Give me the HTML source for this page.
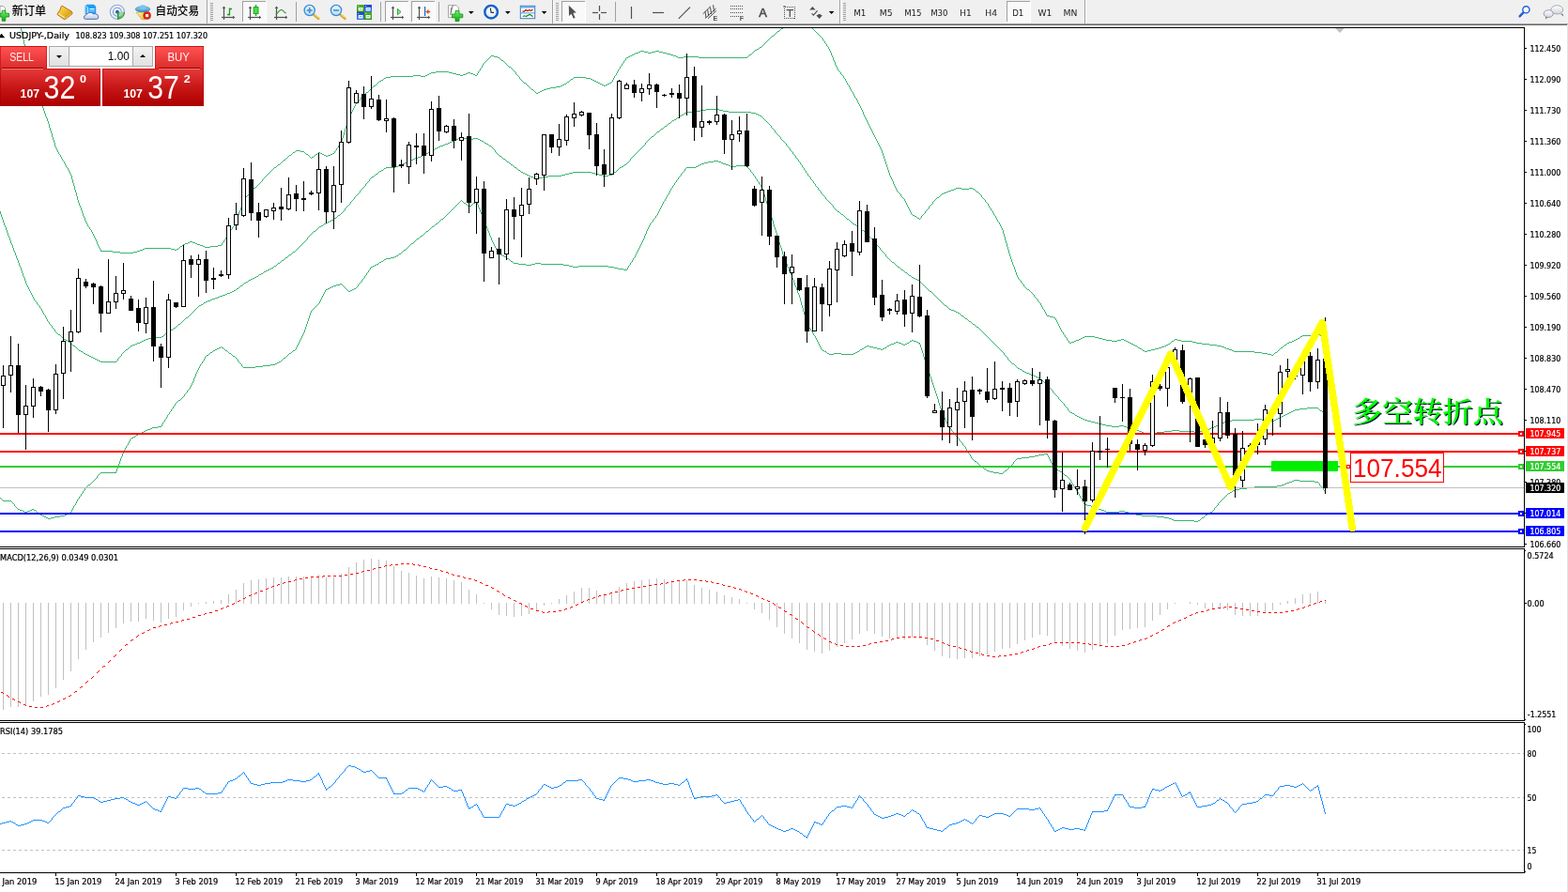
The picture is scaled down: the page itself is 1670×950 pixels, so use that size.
<!DOCTYPE html>
<html><head><meta charset="utf-8"><title>USDJPY-,Daily</title>
<style>
html,body{margin:0;padding:0;background:#fff;}
body{width:1670px;height:950px;overflow:hidden;position:relative;font-family:"Liberation Sans","Noto Sans CJK SC",sans-serif;font-size:11px;}
#chart{position:absolute;left:0;top:0;}

#tbs{position:absolute;left:0;top:0;}
#rs{position:absolute;left:1669px;top:26px;width:1px;height:924px;background:#e4e4e4;}
#oct{position:absolute;left:0;top:49px;width:217px;height:64px;background:#fff;}
#oct .btn{position:absolute;top:0;height:24px;background:linear-gradient(#ff5252,#dc2c2c);box-sizing:border-box;border-top:1px solid #c81414;box-shadow:inset 1px 0 0 rgba(190,10,10,0.6),inset -1px 0 0 rgba(190,10,10,0.6);}
#oct .btn i{position:absolute;top:22px;height:1px;background:#980000;}
#oct .vol{position:absolute;left:52px;top:0;width:111px;height:22px;box-sizing:border-box;border:1px solid #a8a8a8;background:#fff;}
#oct .vol b{position:absolute;top:0;width:20px;height:20px;background:linear-gradient(#f2f2f2,#e2e2e2);}
#oct .vol b.dn{left:0;border-right:1px solid #a8a8a8;}
#oct .vol b.up{right:0;border-left:1px solid #a8a8a8;}
#oct .vol b.dn:after{content:"";position:absolute;left:7px;top:8.5px;border:3px solid transparent;border-top:3.5px solid #000;border-bottom:0;}
#oct .vol b.up:after{content:"";position:absolute;left:7px;top:8px;border:3px solid transparent;border-bottom:3.5px solid #000;border-top:0;}
#oct .hl{position:absolute;top:24px;height:1px;background:#f47878;}
#oct .pp{position:absolute;top:24px;height:40px;background:linear-gradient(#e63a3a,#c41414 55%,#ac0000);box-shadow:inset 0 0 0 1px rgba(170,0,0,0.55);}

</style></head><body>
<svg id="chart" width="1670" height="950" viewBox="0 0 1670 950">
<defs>
<clipPath id="cm"><rect x="0" y="30" width="1623" height="552"/></clipPath>
<clipPath id="c2"><rect x="0" y="585" width="1623" height="182"/></clipPath>
<clipPath id="c3"><rect x="0" y="770" width="1623" height="159"/></clipPath>
</defs>
<g clip-path="url(#cm)" shape-rendering="crispEdges">
<path d="M0 -83h1v5h-1zM1 -78h1v6h-1zM2 -72h1v6h-1zM3 -66h1v5h-1zM4 -61h1v6h-1zM5 -55h1v6h-1zM6 -49h1v5h-1zM7 -44h1v6h-1zM8 -38h1v5h-1zM9 -33h1v6h-1zM10 -27h1v6h-1zM11 -21h1v5h-1zM12 -16h1v4h-1zM13 -12h1v4h-1zM14 -8h1v4h-1zM15 -4h1v5h-1zM16 1h1v4h-1zM17 5h1v4h-1zM18 9h1v4h-1zM19 13h1v5h-1zM20 18h1v5h-1zM21 23h1v5h-1zM858 25h2v1h-2zM856 26h2v1h-2zM860 26h1v1h-1zM840 27h8v1h-8zM853 27h3v1h-3zM861 27h1v1h-1zM22 28h1v5h-1zM835 28h5v1h-5zM848 28h5v1h-5zM862 28h2v1h-2zM834 29h1v1h-1zM864 29h1v1h-1zM832 30h2v1h-2zM865 30h1v1h-1zM831 31h1v1h-1zM866 31h1v1h-1zM830 32h1v1h-1zM867 32h1v1h-1zM23 33h1v4h-1zM828 33h2v1h-2zM868 33h1v1h-1zM827 34h1v1h-1zM869 34h1v1h-1zM826 35h1v1h-1zM870 35h1v1h-1zM825 36h1v1h-1zM871 36h1v1h-1zM24 37h1v5h-1zM824 37h1v1h-1zM872 37h1v1h-1zM822 38h2v1h-2zM873 38h1v1h-1zM821 39h1v1h-1zM874 39h1v1h-1zM820 40h1v1h-1zM875 40h1v1h-1zM819 41h1v1h-1zM876 41h1v2h-1zM25 42h1v5h-1zM818 42h1v1h-1zM817 43h1v1h-1zM877 43h1v1h-1zM816 44h1v1h-1zM878 44h1v2h-1zM815 45h1v1h-1zM814 46h1v1h-1zM879 46h1v1h-1zM26 47h1v5h-1zM813 47h1v1h-1zM880 47h1v2h-1zM812 48h1v1h-1zM811 49h1v1h-1zM881 49h1v1h-1zM809 50h2v1h-2zM882 50h1v2h-1zM808 51h1v1h-1zM27 52h1v5h-1zM806 52h2v1h-2zM883 52h1v2h-1zM804 53h2v1h-2zM682 54h4v1h-4zM698 54h4v1h-4zM803 54h1v1h-1zM884 54h1v2h-1zM680 55h2v1h-2zM686 55h4v1h-4zM694 55h4v1h-4zM702 55h4v1h-4zM802 55h1v1h-1zM677 56h3v1h-3zM690 56h4v1h-4zM706 56h4v1h-4zM801 56h1v1h-1zM885 56h1v3h-1zM28 57h1v5h-1zM675 57h2v1h-2zM710 57h4v1h-4zM800 57h1v1h-1zM673 58h2v1h-2zM714 58h3v1h-3zM798 58h2v1h-2zM523 59h3v1h-3zM671 59h2v1h-2zM717 59h3v1h-3zM797 59h1v1h-1zM886 59h1v2h-1zM522 60h1v1h-1zM526 60h4v1h-4zM669 60h2v1h-2zM720 60h2v1h-2zM728 60h16v1h-16zM796 60h1v1h-1zM521 61h1v1h-1zM530 61h2v1h-2zM667 61h2v1h-2zM722 61h6v1h-6zM744 61h52v1h-52zM887 61h1v3h-1zM29 62h1v4h-1zM520 62h1v1h-1zM532 62h1v1h-1zM666 62h1v2h-1zM519 63h1v1h-1zM533 63h1v1h-1zM518 64h1v1h-1zM534 64h2v1h-2zM665 64h1v1h-1zM888 64h1v2h-1zM517 65h1v1h-1zM536 65h1v1h-1zM664 65h1v2h-1zM30 66h1v5h-1zM516 66h1v1h-1zM537 66h1v1h-1zM889 66h1v3h-1zM515 67h1v1h-1zM538 67h1v1h-1zM663 67h1v1h-1zM514 68h1v2h-1zM539 68h1v1h-1zM662 68h1v2h-1zM540 69h1v1h-1zM890 69h1v2h-1zM513 70h1v2h-1zM541 70h1v1h-1zM661 70h1v1h-1zM31 71h1v5h-1zM542 71h2v1h-2zM660 71h1v2h-1zM891 71h1v2h-1zM512 72h1v1h-1zM544 72h1v1h-1zM511 73h1v2h-1zM545 73h1v1h-1zM659 73h1v1h-1zM892 73h1v2h-1zM546 74h1v1h-1zM658 74h1v2h-1zM510 75h1v1h-1zM547 75h1v1h-1zM893 75h1v1h-1zM32 76h1v5h-1zM464 76h14v1h-14zM509 76h1v2h-1zM548 76h1v1h-1zM657 76h1v2h-1zM894 76h1v1h-1zM459 77h5v1h-5zM478 77h4v1h-4zM498 77h3v1h-3zM549 77h1v2h-1zM895 77h1v2h-1zM457 78h2v1h-2zM482 78h4v1h-4zM496 78h2v1h-2zM501 78h3v1h-3zM508 78h1v2h-1zM656 78h1v2h-1zM455 79h2v1h-2zM486 79h4v1h-4zM493 79h3v1h-3zM504 79h2v1h-2zM550 79h1v1h-1zM896 79h1v1h-1zM440 80h8v1h-8zM453 80h2v1h-2zM490 80h3v1h-3zM506 80h2v1h-2zM551 80h1v1h-1zM655 80h1v1h-1zM897 80h1v1h-1zM33 81h1v4h-1zM416 81h24v1h-24zM448 81h5v1h-5zM552 81h1v1h-1zM654 81h1v2h-1zM898 81h1v2h-1zM411 82h5v1h-5zM553 82h1v2h-1zM611 82h13v1h-13zM409 83h2v1h-2zM610 83h1v1h-1zM624 83h5v1h-5zM653 83h1v2h-1zM899 83h1v1h-1zM408 84h1v1h-1zM554 84h1v1h-1zM608 84h2v1h-2zM629 84h2v1h-2zM900 84h1v2h-1zM34 85h1v5h-1zM406 85h2v1h-2zM555 85h1v1h-1zM607 85h1v1h-1zM631 85h2v1h-2zM652 85h1v2h-1zM404 86h2v1h-2zM556 86h1v1h-1zM606 86h1v1h-1zM633 86h2v1h-2zM901 86h1v2h-1zM403 87h1v1h-1zM557 87h1v1h-1zM604 87h2v1h-2zM635 87h2v1h-2zM651 87h1v1h-1zM402 88h1v1h-1zM558 88h2v1h-2zM603 88h1v1h-1zM637 88h2v1h-2zM649 88h2v1h-2zM902 88h1v2h-1zM401 89h1v1h-1zM560 89h1v1h-1zM601 89h2v1h-2zM639 89h2v1h-2zM647 89h2v1h-2zM35 90h1v4h-1zM400 90h1v1h-1zM561 90h1v1h-1zM599 90h2v1h-2zM641 90h2v1h-2zM645 90h2v1h-2zM903 90h1v1h-1zM398 91h2v1h-2zM562 91h1v1h-1zM597 91h2v1h-2zM643 91h2v1h-2zM904 91h1v2h-1zM397 92h1v1h-1zM563 92h1v1h-1zM592 92h5v1h-5zM396 93h1v1h-1zM564 93h1v1h-1zM586 93h6v1h-6zM905 93h1v2h-1zM36 94h1v2h-1zM395 94h1v1h-1zM565 94h1v1h-1zM582 94h4v1h-4zM394 95h1v1h-1zM566 95h2v1h-2zM579 95h3v1h-3zM906 95h1v2h-1zM37 96h1v2h-1zM393 96h1v1h-1zM568 96h1v1h-1zM577 96h2v1h-2zM392 97h1v1h-1zM569 97h1v1h-1zM575 97h2v1h-2zM907 97h1v1h-1zM38 98h1v2h-1zM390 98h2v1h-2zM570 98h1v1h-1zM573 98h2v1h-2zM908 98h1v2h-1zM389 99h1v1h-1zM571 99h2v1h-2zM39 100h1v2h-1zM388 100h1v1h-1zM909 100h1v2h-1zM387 101h1v1h-1zM40 102h1v2h-1zM386 102h1v1h-1zM910 102h1v2h-1zM385 103h1v1h-1zM41 104h1v2h-1zM384 104h1v1h-1zM911 104h1v1h-1zM383 105h1v2h-1zM912 105h1v2h-1zM42 106h1v2h-1zM382 107h1v1h-1zM913 107h1v2h-1zM43 108h1v2h-1zM381 108h1v1h-1zM380 109h1v1h-1zM914 109h1v2h-1zM44 110h1v3h-1zM379 110h1v1h-1zM378 111h1v2h-1zM915 111h1v2h-1zM45 113h1v2h-1zM377 113h1v2h-1zM916 113h1v2h-1zM46 115h1v3h-1zM376 115h1v2h-1zM917 115h1v2h-1zM375 117h1v2h-1zM918 117h1v2h-1zM47 118h1v3h-1zM374 119h1v2h-1zM919 119h1v3h-1zM48 121h1v3h-1zM373 121h1v2h-1zM920 122h1v2h-1zM372 123h1v2h-1zM49 124h1v2h-1zM921 124h1v2h-1zM371 125h1v3h-1zM50 126h1v3h-1zM922 126h1v2h-1zM370 128h1v3h-1zM923 128h1v2h-1zM51 129h1v3h-1zM924 130h1v2h-1zM369 131h1v3h-1zM52 132h1v4h-1zM925 132h1v2h-1zM368 134h1v3h-1zM926 134h1v2h-1zM53 136h1v3h-1zM927 136h1v2h-1zM367 137h1v4h-1zM928 138h1v2h-1zM54 139h1v3h-1zM929 140h1v2h-1zM366 141h1v3h-1zM55 142h1v4h-1zM930 142h1v2h-1zM365 144h1v3h-1zM931 144h1v2h-1zM56 146h1v3h-1zM932 146h1v2h-1zM364 147h1v3h-1zM933 148h1v2h-1zM57 149h1v3h-1zM363 150h1v2h-1zM934 150h1v2h-1zM58 152h1v4h-1zM362 152h1v2h-1zM935 152h1v2h-1zM361 154h1v1h-1zM936 154h1v2h-1zM360 155h1v2h-1zM59 156h1v2h-1zM937 156h1v2h-1zM359 157h1v1h-1zM60 158h1v2h-1zM358 158h1v2h-1zM938 158h1v2h-1zM61 160h1v2h-1zM315 160h5v1h-5zM357 160h1v1h-1zM939 160h1v3h-1zM314 161h1v1h-1zM320 161h4v1h-4zM356 161h1v2h-1zM62 162h1v2h-1zM312 162h2v1h-2zM324 162h1v1h-1zM339 162h2v1h-2zM311 163h1v1h-1zM325 163h1v1h-1zM338 163h1v1h-1zM341 163h2v1h-2zM354 163h2v1h-2zM940 163h1v3h-1zM63 164h1v1h-1zM310 164h1v1h-1zM326 164h2v1h-2zM336 164h2v1h-2zM343 164h2v1h-2zM352 164h2v1h-2zM64 165h1v2h-1zM308 165h2v1h-2zM328 165h1v1h-1zM335 165h1v1h-1zM345 165h2v1h-2zM349 165h3v1h-3zM307 166h1v1h-1zM329 166h1v1h-1zM334 166h1v1h-1zM347 166h2v1h-2zM941 166h1v3h-1zM65 167h1v2h-1zM306 167h1v1h-1zM330 167h1v1h-1zM332 167h2v1h-2zM305 168h1v1h-1zM331 168h1v1h-1zM66 169h1v2h-1zM304 169h1v1h-1zM942 169h1v3h-1zM302 170h2v1h-2zM67 171h1v1h-1zM301 171h1v1h-1zM68 172h1v2h-1zM300 172h1v1h-1zM943 172h1v3h-1zM299 173h1v1h-1zM69 174h1v2h-1zM298 174h1v1h-1zM296 175h2v1h-2zM944 175h1v3h-1zM70 176h1v2h-1zM295 176h1v1h-1zM294 177h1v1h-1zM71 178h1v1h-1zM292 178h2v1h-2zM945 178h1v3h-1zM72 179h1v2h-1zM291 179h1v1h-1zM290 180h1v1h-1zM73 181h1v2h-1zM289 181h1v1h-1zM946 181h1v3h-1zM288 182h1v1h-1zM74 183h1v2h-1zM287 183h1v1h-1zM286 184h1v1h-1zM947 184h1v3h-1zM75 185h1v2h-1zM285 185h1v1h-1zM284 186h1v1h-1zM76 187h1v4h-1zM283 187h1v1h-1zM948 187h1v2h-1zM282 188h1v1h-1zM281 189h1v1h-1zM949 189h1v2h-1zM280 190h1v1h-1zM77 191h1v4h-1zM279 191h1v2h-1zM950 191h1v2h-1zM278 193h1v1h-1zM951 193h1v3h-1zM277 194h1v1h-1zM78 195h1v3h-1zM276 195h1v1h-1zM275 196h1v1h-1zM952 196h1v2h-1zM274 197h1v1h-1zM79 198h1v4h-1zM273 198h1v1h-1zM953 198h1v2h-1zM272 199h1v1h-1zM270 200h2v1h-2zM954 200h1v2h-1zM1018 200h6v1h-6zM1032 200h4v1h-4zM269 201h1v1h-1zM1016 201h2v1h-2zM1024 201h8v1h-8zM1036 201h2v1h-2zM80 202h1v3h-1zM268 202h1v1h-1zM955 202h1v2h-1zM1013 202h3v1h-3zM1038 202h1v1h-1zM267 203h1v1h-1zM1010 203h3v1h-3zM1039 203h1v1h-1zM266 204h1v1h-1zM956 204h1v1h-1zM1008 204h2v1h-2zM1040 204h2v1h-2zM81 205h1v4h-1zM265 205h1v2h-1zM957 205h1v1h-1zM1005 205h3v1h-3zM1042 205h1v1h-1zM958 206h1v1h-1zM1003 206h2v1h-2zM1043 206h1v1h-1zM264 207h1v1h-1zM959 207h1v2h-1zM1002 207h1v1h-1zM1044 207h1v1h-1zM263 208h1v1h-1zM1001 208h1v1h-1zM1045 208h1v2h-1zM82 209h1v4h-1zM262 209h1v1h-1zM960 209h1v1h-1zM1000 209h1v1h-1zM261 210h1v2h-1zM961 210h1v1h-1zM998 210h2v1h-2zM1046 210h1v1h-1zM962 211h1v1h-1zM997 211h1v1h-1zM1047 211h1v1h-1zM260 212h1v1h-1zM963 212h1v2h-1zM996 212h1v1h-1zM1048 212h1v1h-1zM83 213h1v3h-1zM259 213h1v2h-1zM995 213h1v1h-1zM1049 213h1v2h-1zM964 214h1v2h-1zM994 214h1v1h-1zM258 215h1v3h-1zM993 215h1v2h-1zM1050 215h1v1h-1zM84 216h1v3h-1zM965 216h1v2h-1zM1051 216h1v1h-1zM992 217h1v1h-1zM1052 217h1v2h-1zM257 218h1v3h-1zM966 218h1v2h-1zM991 218h1v1h-1zM85 219h1v2h-1zM990 219h1v1h-1zM1053 219h1v2h-1zM967 220h1v2h-1zM989 220h1v2h-1zM86 221h1v3h-1zM256 221h1v3h-1zM1054 221h1v1h-1zM968 222h1v2h-1zM988 222h1v1h-1zM1055 222h1v2h-1zM987 223h1v1h-1zM87 224h1v3h-1zM255 224h1v2h-1zM969 224h1v2h-1zM986 224h1v1h-1zM1056 224h1v1h-1zM985 225h1v2h-1zM1057 225h1v2h-1zM254 226h1v3h-1zM970 226h1v2h-1zM88 227h1v3h-1zM984 227h1v1h-1zM1058 227h1v2h-1zM971 228h1v1h-1zM983 228h1v1h-1zM253 229h1v3h-1zM972 229h2v1h-2zM982 229h1v1h-1zM1059 229h1v1h-1zM89 230h1v2h-1zM974 230h2v1h-2zM981 230h1v2h-1zM1060 230h1v2h-1zM976 231h1v1h-1zM90 232h1v3h-1zM252 232h1v3h-1zM977 232h2v1h-2zM980 232h1v1h-1zM1061 232h1v2h-1zM979 233h1v1h-1zM1062 234h1v2h-1zM91 235h1v2h-1zM251 235h1v2h-1zM1063 236h1v1h-1zM92 237h1v2h-1zM250 237h1v2h-1zM1064 237h1v2h-1zM93 239h1v2h-1zM249 239h1v2h-1zM1065 239h1v2h-1zM94 241h1v1h-1zM248 241h1v1h-1zM1066 241h1v2h-1zM95 242h1v2h-1zM247 242h1v2h-1zM1067 243h1v2h-1zM96 244h1v1h-1zM246 244h1v1h-1zM97 245h1v2h-1zM245 245h1v2h-1zM1068 245h1v4h-1zM98 247h1v2h-1zM244 247h1v2h-1zM99 249h1v2h-1zM243 249h1v1h-1zM1069 249h1v3h-1zM242 250h1v2h-1zM100 251h1v2h-1zM241 252h1v1h-1zM1070 252h1v4h-1zM101 253h1v2h-1zM240 253h1v2h-1zM102 255h1v2h-1zM239 255h1v1h-1zM238 256h1v2h-1zM1071 256h1v3h-1zM103 257h1v3h-1zM202 257h3v1h-3zM200 258h2v1h-2zM205 258h3v1h-3zM237 258h1v1h-1zM197 259h3v1h-3zM208 259h2v1h-2zM236 259h1v2h-1zM1072 259h1v4h-1zM104 260h1v2h-1zM195 260h2v1h-2zM210 260h3v1h-3zM194 261h1v1h-1zM213 261h3v1h-3zM232 261h4v1h-4zM105 262h1v2h-1zM192 262h2v1h-2zM216 262h2v1h-2zM224 262h8v1h-8zM191 263h1v1h-1zM218 263h6v1h-6zM1073 263h1v3h-1zM106 264h1v2h-1zM154 264h28v1h-28zM190 264h1v1h-1zM152 265h2v1h-2zM182 265h4v1h-4zM188 265h2v1h-2zM107 266h1v2h-1zM149 266h3v1h-3zM186 266h2v1h-2zM1074 266h1v4h-1zM108 267h12v1h-12zM146 267h3v1h-3zM120 268h8v1h-8zM142 268h4v1h-4zM128 269h14v1h-14zM1075 270h1v3h-1zM1076 273h1v3h-1zM1077 276h1v3h-1zM1078 279h1v3h-1zM1079 282h1v2h-1zM1080 284h1v3h-1zM1081 287h1v3h-1zM1082 290h1v3h-1zM1083 293h1v2h-1zM1084 295h1v2h-1zM1085 297h1v1h-1zM1086 298h1v1h-1zM1087 299h1v2h-1zM1088 301h1v1h-1zM1089 302h1v1h-1zM1090 303h1v2h-1zM1091 305h1v1h-1zM1092 306h1v1h-1zM1093 307h1v1h-1zM1094 308h2v1h-2zM1096 309h1v1h-1zM1097 310h1v1h-1zM1098 311h1v1h-1zM1099 312h1v1h-1zM1100 313h1v1h-1zM1101 314h1v2h-1zM1102 316h1v1h-1zM1103 317h1v1h-1zM1104 318h1v1h-1zM1105 319h1v2h-1zM1106 321h1v1h-1zM1107 322h1v1h-1zM1108 323h1v2h-1zM1109 325h1v2h-1zM1110 327h1v2h-1zM1111 329h1v1h-1zM1112 330h1v2h-1zM1113 332h1v2h-1zM1114 334h1v2h-1zM1115 336h3v1h-3zM1118 337h4v1h-4zM1122 338h2v1h-2zM1124 339h1v2h-1zM1125 341h1v2h-1zM1126 343h1v2h-1zM1127 345h1v2h-1zM1128 347h1v2h-1zM1129 349h1v2h-1zM1130 351h1v2h-1zM1131 353h1v1h-1zM1132 354h1v2h-1zM1402 355h2v1h-2zM1133 356h1v1h-1zM1398 356h4v1h-4zM1404 356h2v1h-2zM1134 357h1v2h-1zM1387 357h11v1h-11zM1406 357h2v1h-2zM1155 358h11v1h-11zM1385 358h2v1h-2zM1408 358h1v1h-1zM1135 359h1v1h-1zM1153 359h2v1h-2zM1166 359h4v1h-4zM1384 359h1v1h-1zM1409 359h2v1h-2zM1136 360h1v2h-1zM1151 360h2v1h-2zM1170 360h4v1h-4zM1382 360h2v1h-2zM1411 360h1v1h-1zM1149 361h2v1h-2zM1174 361h4v1h-4zM1194 361h3v1h-3zM1251 361h3v1h-3zM1380 361h2v1h-2zM1137 362h1v1h-1zM1146 362h3v1h-3zM1178 362h6v1h-6zM1190 362h4v1h-4zM1197 362h2v1h-2zM1250 362h1v1h-1zM1254 362h4v1h-4zM1378 362h2v1h-2zM1138 363h1v2h-1zM1144 363h2v1h-2zM1184 363h6v1h-6zM1199 363h2v1h-2zM1248 363h2v1h-2zM1258 363h12v1h-12zM1376 363h2v1h-2zM1141 364h3v1h-3zM1201 364h2v1h-2zM1247 364h1v1h-1zM1270 364h4v1h-4zM1373 364h3v1h-3zM1139 365h2v1h-2zM1203 365h2v1h-2zM1246 365h1v1h-1zM1274 365h6v1h-6zM1371 365h2v1h-2zM1205 366h2v1h-2zM1244 366h2v1h-2zM1280 366h8v1h-8zM1370 366h1v1h-1zM1207 367h2v1h-2zM1242 367h2v1h-2zM1288 367h8v1h-8zM1368 367h2v1h-2zM1209 368h2v1h-2zM1240 368h2v1h-2zM1296 368h5v1h-5zM1367 368h1v1h-1zM1211 369h1v1h-1zM1237 369h3v1h-3zM1301 369h3v1h-3zM1366 369h1v1h-1zM1212 370h2v1h-2zM1234 370h3v1h-3zM1304 370h2v1h-2zM1364 370h2v1h-2zM1214 371h2v1h-2zM1230 371h4v1h-4zM1306 371h3v1h-3zM1363 371h1v1h-1zM1216 372h1v1h-1zM1226 372h4v1h-4zM1309 372h3v1h-3zM1362 372h1v1h-1zM1217 373h2v1h-2zM1222 373h4v1h-4zM1312 373h2v1h-2zM1361 373h1v1h-1zM1219 374h3v1h-3zM1314 374h22v1h-22zM1360 374h1v1h-1zM1336 375h8v1h-8zM1358 375h2v1h-2zM1344 376h6v1h-6zM1357 376h1v1h-1zM1350 377h4v1h-4zM1356 377h1v1h-1zM1354 378h2v1h-2z" fill="#3cb371"/>
<path d="M752 116h14v1h-14zM746 117h6v1h-6zM766 117h4v1h-4zM742 118h4v1h-4zM770 118h6v1h-6zM731 119h11v1h-11zM776 119h24v1h-24zM729 120h2v1h-2zM800 120h5v1h-5zM728 121h1v1h-1zM805 121h2v1h-2zM726 122h2v1h-2zM807 122h2v1h-2zM724 123h2v1h-2zM809 123h2v1h-2zM723 124h1v1h-1zM811 124h1v1h-1zM721 125h2v1h-2zM812 125h1v1h-1zM720 126h1v1h-1zM813 126h1v1h-1zM718 127h2v1h-2zM814 127h1v1h-1zM716 128h2v1h-2zM815 128h1v1h-1zM715 129h1v1h-1zM816 129h1v1h-1zM714 130h1v1h-1zM817 130h1v1h-1zM712 131h2v1h-2zM818 131h1v1h-1zM711 132h1v1h-1zM819 132h1v1h-1zM710 133h1v1h-1zM820 133h1v1h-1zM708 134h2v1h-2zM821 134h1v2h-1zM707 135h1v1h-1zM706 136h1v1h-1zM822 136h1v1h-1zM704 137h2v1h-2zM823 137h1v1h-1zM703 138h1v1h-1zM824 138h1v1h-1zM702 139h1v1h-1zM825 139h1v2h-1zM700 140h2v1h-2zM699 141h1v1h-1zM826 141h1v1h-1zM698 142h1v1h-1zM827 142h1v1h-1zM697 143h1v1h-1zM828 143h1v1h-1zM696 144h1v1h-1zM829 144h1v1h-1zM694 145h2v1h-2zM830 145h1v1h-1zM490 146h4v1h-4zM693 146h1v1h-1zM831 146h1v2h-1zM488 147h2v1h-2zM494 147h4v1h-4zM504 147h5v1h-5zM692 147h1v1h-1zM485 148h3v1h-3zM498 148h6v1h-6zM509 148h2v1h-2zM691 148h1v1h-1zM832 148h1v1h-1zM483 149h2v1h-2zM511 149h2v1h-2zM690 149h1v1h-1zM833 149h1v1h-1zM481 150h2v1h-2zM513 150h2v1h-2zM689 150h1v1h-1zM834 150h1v1h-1zM479 151h2v1h-2zM515 151h1v1h-1zM688 151h1v1h-1zM835 151h1v1h-1zM477 152h2v1h-2zM516 152h2v1h-2zM687 152h1v2h-1zM836 152h1v1h-1zM474 153h3v1h-3zM518 153h2v1h-2zM837 153h1v2h-1zM472 154h2v1h-2zM520 154h1v1h-1zM686 154h1v1h-1zM469 155h3v1h-3zM521 155h2v1h-2zM685 155h1v1h-1zM838 155h1v1h-1zM467 156h2v1h-2zM523 156h1v1h-1zM684 156h1v1h-1zM839 156h1v1h-1zM465 157h2v1h-2zM524 157h1v1h-1zM683 157h1v1h-1zM840 157h1v1h-1zM463 158h2v1h-2zM525 158h1v1h-1zM682 158h1v1h-1zM841 158h1v2h-1zM461 159h2v1h-2zM526 159h1v1h-1zM681 159h1v1h-1zM459 160h2v1h-2zM527 160h1v2h-1zM680 160h1v1h-1zM842 160h1v1h-1zM457 161h2v1h-2zM679 161h1v1h-1zM843 161h1v1h-1zM456 162h1v1h-1zM528 162h1v1h-1zM678 162h1v1h-1zM844 162h1v2h-1zM454 163h2v1h-2zM529 163h1v1h-1zM677 163h1v1h-1zM452 164h2v1h-2zM530 164h1v1h-1zM676 164h1v1h-1zM845 164h1v1h-1zM450 165h2v1h-2zM531 165h1v1h-1zM675 165h1v1h-1zM846 165h1v1h-1zM448 166h2v1h-2zM532 166h2v1h-2zM674 166h1v1h-1zM847 166h1v2h-1zM445 167h3v1h-3zM534 167h1v1h-1zM673 167h1v1h-1zM442 168h3v1h-3zM535 168h1v1h-1zM672 168h1v1h-1zM848 168h1v1h-1zM440 169h2v1h-2zM536 169h2v1h-2zM671 169h1v2h-1zM849 169h1v1h-1zM437 170h3v1h-3zM538 170h1v1h-1zM850 170h1v2h-1zM435 171h2v1h-2zM539 171h1v1h-1zM670 171h1v1h-1zM433 172h2v1h-2zM540 172h2v1h-2zM669 172h1v1h-1zM851 172h1v1h-1zM431 173h2v1h-2zM542 173h1v1h-1zM668 173h1v1h-1zM852 173h1v2h-1zM429 174h2v1h-2zM543 174h1v1h-1zM667 174h1v1h-1zM426 175h3v1h-3zM544 175h2v1h-2zM665 175h2v1h-2zM853 175h1v1h-1zM424 176h2v1h-2zM546 176h1v1h-1zM664 176h1v1h-1zM854 176h1v2h-1zM421 177h3v1h-3zM547 177h1v1h-1zM662 177h2v1h-2zM411 178h10v1h-10zM548 178h2v1h-2zM660 178h2v1h-2zM855 178h1v1h-1zM409 179h2v1h-2zM550 179h1v1h-1zM659 179h1v1h-1zM856 179h1v2h-1zM408 180h1v1h-1zM551 180h1v1h-1zM658 180h1v1h-1zM406 181h2v1h-2zM552 181h2v1h-2zM657 181h1v1h-1zM857 181h1v1h-1zM404 182h2v1h-2zM554 182h1v1h-1zM656 182h1v1h-1zM858 182h1v2h-1zM403 183h1v1h-1zM555 183h2v1h-2zM610 183h20v1h-20zM654 183h2v1h-2zM402 184h1v1h-1zM557 184h2v1h-2zM606 184h4v1h-4zM630 184h4v1h-4zM653 184h1v1h-1zM859 184h1v1h-1zM400 185h2v1h-2zM559 185h2v1h-2zM602 185h4v1h-4zM634 185h4v1h-4zM652 185h1v1h-1zM860 185h1v2h-1zM399 186h1v1h-1zM561 186h2v1h-2zM598 186h4v1h-4zM638 186h4v1h-4zM648 186h4v1h-4zM398 187h1v1h-1zM563 187h2v1h-2zM584 187h14v1h-14zM642 187h6v1h-6zM861 187h1v1h-1zM396 188h2v1h-2zM565 188h3v1h-3zM578 188h6v1h-6zM862 188h1v1h-1zM395 189h1v1h-1zM568 189h2v1h-2zM574 189h4v1h-4zM863 189h1v2h-1zM394 190h1v1h-1zM570 190h4v1h-4zM393 191h1v2h-1zM864 191h1v1h-1zM865 192h1v1h-1zM392 193h1v1h-1zM866 193h1v2h-1zM391 194h1v1h-1zM390 195h1v1h-1zM867 195h1v1h-1zM389 196h1v2h-1zM868 196h1v2h-1zM388 198h1v1h-1zM869 198h1v1h-1zM387 199h1v1h-1zM870 199h1v1h-1zM386 200h1v1h-1zM871 200h1v2h-1zM385 201h1v1h-1zM384 202h1v1h-1zM872 202h1v1h-1zM383 203h1v2h-1zM873 203h1v1h-1zM874 204h1v2h-1zM382 205h1v1h-1zM381 206h1v1h-1zM875 206h1v1h-1zM380 207h1v1h-1zM876 207h1v1h-1zM379 208h1v1h-1zM877 208h1v1h-1zM378 209h1v1h-1zM878 209h1v1h-1zM377 210h1v2h-1zM879 210h1v2h-1zM376 212h1v1h-1zM880 212h1v1h-1zM375 213h1v1h-1zM881 213h1v1h-1zM374 214h1v1h-1zM882 214h1v1h-1zM373 215h1v2h-1zM883 215h1v1h-1zM884 216h1v1h-1zM372 217h1v1h-1zM885 217h1v1h-1zM371 218h1v1h-1zM886 218h1v1h-1zM370 219h1v1h-1zM887 219h1v2h-1zM369 220h1v1h-1zM368 221h1v1h-1zM888 221h1v1h-1zM367 222h1v2h-1zM889 222h1v1h-1zM890 223h1v1h-1zM366 224h1v1h-1zM891 224h1v1h-1zM0 225h1v3h-1zM365 225h1v1h-1zM892 225h2v1h-2zM364 226h1v1h-1zM894 226h1v1h-1zM363 227h1v1h-1zM895 227h1v1h-1zM1 228h1v3h-1zM362 228h1v1h-1zM896 228h2v1h-2zM360 229h2v1h-2zM898 229h1v1h-1zM359 230h1v1h-1zM899 230h1v1h-1zM2 231h1v3h-1zM358 231h1v1h-1zM900 231h1v1h-1zM356 232h2v1h-2zM901 232h1v1h-1zM355 233h1v1h-1zM902 233h2v1h-2zM3 234h1v3h-1zM353 234h2v1h-2zM904 234h1v1h-1zM351 235h2v1h-2zM905 235h1v1h-1zM349 236h2v1h-2zM906 236h1v1h-1zM4 237h1v3h-1zM347 237h2v1h-2zM907 237h1v1h-1zM345 238h2v1h-2zM908 238h2v1h-2zM344 239h1v1h-1zM910 239h2v1h-2zM5 240h1v2h-1zM342 240h2v1h-2zM912 240h1v1h-1zM340 241h2v1h-2zM913 241h2v1h-2zM6 242h1v3h-1zM339 242h1v1h-1zM915 242h1v1h-1zM338 243h1v1h-1zM916 243h1v1h-1zM337 244h1v1h-1zM917 244h1v1h-1zM7 245h1v3h-1zM336 245h1v1h-1zM918 245h2v1h-2zM334 246h2v1h-2zM920 246h1v1h-1zM333 247h1v1h-1zM921 247h1v1h-1zM8 248h1v3h-1zM332 248h1v1h-1zM922 248h1v1h-1zM331 249h1v1h-1zM923 249h1v1h-1zM330 250h1v1h-1zM924 250h1v1h-1zM9 251h1v2h-1zM329 251h1v1h-1zM925 251h1v1h-1zM328 252h1v1h-1zM926 252h1v1h-1zM10 253h1v3h-1zM327 253h1v2h-1zM927 253h1v1h-1zM928 254h1v1h-1zM326 255h1v1h-1zM929 255h1v1h-1zM11 256h1v3h-1zM325 256h1v1h-1zM930 256h1v1h-1zM324 257h1v1h-1zM931 257h1v1h-1zM323 258h1v1h-1zM932 258h1v1h-1zM12 259h1v2h-1zM322 259h1v1h-1zM933 259h1v2h-1zM321 260h1v1h-1zM13 261h1v3h-1zM320 261h1v1h-1zM934 261h1v1h-1zM319 262h1v1h-1zM935 262h1v1h-1zM318 263h1v1h-1zM936 263h1v1h-1zM14 264h1v3h-1zM317 264h1v1h-1zM937 264h1v2h-1zM316 265h1v1h-1zM315 266h1v1h-1zM938 266h1v1h-1zM15 267h1v2h-1zM314 267h1v1h-1zM939 267h1v1h-1zM312 268h2v1h-2zM940 268h1v1h-1zM16 269h1v3h-1zM311 269h1v1h-1zM941 269h1v1h-1zM310 270h1v1h-1zM942 270h1v1h-1zM308 271h2v1h-2zM943 271h1v2h-1zM17 272h1v3h-1zM307 272h1v1h-1zM306 273h1v1h-1zM944 273h1v1h-1zM304 274h2v1h-2zM945 274h1v1h-1zM18 275h1v2h-1zM303 275h1v1h-1zM946 275h1v1h-1zM302 276h1v1h-1zM947 276h1v1h-1zM19 277h1v3h-1zM300 277h2v1h-2zM948 277h1v1h-1zM299 278h1v1h-1zM949 278h1v1h-1zM298 279h1v1h-1zM950 279h2v1h-2zM20 280h1v3h-1zM296 280h2v1h-2zM952 280h1v1h-1zM295 281h1v1h-1zM953 281h1v1h-1zM294 282h1v1h-1zM954 282h1v1h-1zM21 283h1v2h-1zM292 283h2v1h-2zM955 283h1v1h-1zM291 284h1v1h-1zM956 284h2v1h-2zM22 285h1v3h-1zM289 285h2v1h-2zM958 285h1v1h-1zM287 286h2v1h-2zM959 286h1v1h-1zM285 287h2v1h-2zM960 287h2v1h-2zM23 288h1v3h-1zM283 288h2v1h-2zM962 288h1v1h-1zM281 289h2v1h-2zM963 289h1v1h-1zM280 290h1v1h-1zM964 290h2v1h-2zM24 291h1v3h-1zM278 291h2v1h-2zM966 291h1v1h-1zM276 292h2v1h-2zM967 292h1v1h-1zM275 293h1v1h-1zM968 293h2v1h-2zM25 294h1v2h-1zM273 294h2v1h-2zM970 294h1v1h-1zM271 295h2v1h-2zM971 295h2v1h-2zM26 296h1v3h-1zM269 296h2v1h-2zM973 296h2v1h-2zM267 297h2v1h-2zM975 297h2v1h-2zM265 298h2v1h-2zM977 298h2v1h-2zM27 299h1v3h-1zM264 299h1v1h-1zM979 299h1v1h-1zM262 300h2v1h-2zM980 300h1v1h-1zM260 301h2v1h-2zM981 301h1v1h-1zM28 302h1v2h-1zM259 302h1v1h-1zM982 302h1v1h-1zM258 303h1v1h-1zM983 303h1v1h-1zM29 304h1v2h-1zM256 304h2v1h-2zM984 304h1v1h-1zM255 305h1v1h-1zM985 305h1v1h-1zM30 306h1v2h-1zM254 306h1v1h-1zM986 306h1v1h-1zM252 307h2v1h-2zM987 307h1v1h-1zM31 308h1v2h-1zM251 308h1v1h-1zM988 308h1v1h-1zM249 309h2v1h-2zM989 309h1v1h-1zM32 310h1v2h-1zM247 310h2v1h-2zM990 310h2v1h-2zM245 311h2v1h-2zM992 311h1v1h-1zM33 312h1v2h-1zM242 312h3v1h-3zM993 312h1v1h-1zM240 313h2v1h-2zM994 313h1v1h-1zM34 314h1v2h-1zM237 314h3v1h-3zM995 314h1v1h-1zM234 315h3v1h-3zM996 315h1v1h-1zM35 316h1v2h-1zM232 316h2v1h-2zM997 316h1v1h-1zM229 317h3v1h-3zM998 317h1v1h-1zM36 318h1v2h-1zM226 318h3v1h-3zM999 318h1v1h-1zM224 319h2v1h-2zM1000 319h1v1h-1zM37 320h1v1h-1zM221 320h3v1h-3zM1001 320h1v1h-1zM38 321h1v1h-1zM219 321h2v1h-2zM1002 321h1v1h-1zM39 322h1v2h-1zM217 322h2v1h-2zM1003 322h1v1h-1zM216 323h1v1h-1zM1004 323h1v1h-1zM40 324h1v1h-1zM214 324h2v1h-2zM1005 324h1v1h-1zM41 325h1v1h-1zM212 325h2v1h-2zM1006 325h2v1h-2zM42 326h1v2h-1zM211 326h1v1h-1zM1008 326h1v1h-1zM210 327h1v1h-1zM1009 327h1v1h-1zM43 328h1v1h-1zM209 328h1v1h-1zM1010 328h1v1h-1zM44 329h1v2h-1zM208 329h1v1h-1zM1011 329h2v1h-2zM207 330h1v1h-1zM1013 330h3v1h-3zM45 331h1v2h-1zM206 331h1v1h-1zM1016 331h2v1h-2zM205 332h1v1h-1zM1018 332h2v1h-2zM46 333h1v2h-1zM204 333h1v1h-1zM1020 333h2v1h-2zM203 334h1v1h-1zM1022 334h1v1h-1zM47 335h1v1h-1zM202 335h1v1h-1zM1023 335h1v1h-1zM48 336h1v2h-1zM201 336h1v1h-1zM1024 336h2v1h-2zM200 337h1v1h-1zM1026 337h1v1h-1zM49 338h1v2h-1zM198 338h2v1h-2zM1027 338h1v1h-1zM197 339h1v1h-1zM1028 339h2v1h-2zM50 340h1v2h-1zM196 340h1v1h-1zM1030 340h1v1h-1zM195 341h1v1h-1zM1031 341h1v1h-1zM51 342h1v1h-1zM194 342h1v1h-1zM1032 342h2v1h-2zM52 343h1v2h-1zM193 343h1v1h-1zM1034 343h1v1h-1zM192 344h1v1h-1zM1035 344h1v1h-1zM53 345h1v1h-1zM190 345h2v1h-2zM1036 345h2v1h-2zM54 346h1v1h-1zM189 346h1v1h-1zM1038 346h1v1h-1zM55 347h1v2h-1zM188 347h1v1h-1zM1039 347h1v1h-1zM187 348h1v1h-1zM1040 348h2v1h-2zM56 349h1v1h-1zM185 349h2v1h-2zM1042 349h1v1h-1zM57 350h1v1h-1zM184 350h1v1h-1zM1043 350h1v1h-1zM58 351h1v2h-1zM182 351h2v1h-2zM1044 351h1v1h-1zM180 352h2v1h-2zM1045 352h1v1h-1zM59 353h1v1h-1zM179 353h1v1h-1zM1046 353h1v1h-1zM60 354h1v1h-1zM178 354h1v1h-1zM1047 354h1v1h-1zM61 355h1v1h-1zM176 355h2v1h-2zM1048 355h1v1h-1zM62 356h2v1h-2zM175 356h1v1h-1zM1049 356h1v1h-1zM64 357h1v1h-1zM174 357h1v1h-1zM1050 357h1v1h-1zM65 358h1v1h-1zM172 358h2v1h-2zM1051 358h1v1h-1zM66 359h1v1h-1zM162 359h10v1h-10zM1052 359h1v1h-1zM67 360h1v1h-1zM158 360h4v1h-4zM1053 360h1v1h-1zM68 361h2v1h-2zM155 361h3v1h-3zM1054 361h1v1h-1zM70 362h2v1h-2zM153 362h2v1h-2zM1055 362h1v1h-1zM72 363h1v1h-1zM151 363h2v1h-2zM1056 363h1v1h-1zM73 364h2v1h-2zM149 364h2v1h-2zM1057 364h1v1h-1zM75 365h1v1h-1zM146 365h3v1h-3zM1058 365h1v1h-1zM76 366h1v1h-1zM144 366h2v1h-2zM1059 366h1v1h-1zM77 367h1v1h-1zM141 367h3v1h-3zM1060 367h1v1h-1zM78 368h2v1h-2zM139 368h2v1h-2zM1061 368h1v1h-1zM80 369h1v1h-1zM138 369h1v1h-1zM1062 369h1v1h-1zM81 370h1v1h-1zM137 370h1v1h-1zM1063 370h1v1h-1zM82 371h1v1h-1zM136 371h1v1h-1zM1064 371h1v1h-1zM83 372h1v1h-1zM134 372h2v1h-2zM1065 372h1v1h-1zM84 373h2v1h-2zM133 373h1v1h-1zM1066 373h1v1h-1zM86 374h2v1h-2zM132 374h1v1h-1zM1067 374h1v1h-1zM88 375h1v1h-1zM131 375h1v1h-1zM1068 375h1v1h-1zM89 376h2v1h-2zM130 376h1v1h-1zM1069 376h1v2h-1zM91 377h2v1h-2zM129 377h1v2h-1zM93 378h2v1h-2zM1070 378h1v1h-1zM95 379h2v1h-2zM128 379h1v1h-1zM1071 379h1v1h-1zM97 380h2v1h-2zM127 380h1v1h-1zM1072 380h1v1h-1zM99 381h2v1h-2zM126 381h1v1h-1zM1073 381h1v2h-1zM101 382h2v1h-2zM125 382h1v2h-1zM103 383h2v1h-2zM1074 383h1v1h-1zM105 384h2v1h-2zM124 384h1v1h-1zM1075 384h1v1h-1zM107 385h17v1h-17zM1076 385h1v1h-1zM1077 386h1v1h-1zM1078 387h2v1h-2zM1080 388h1v1h-1zM1081 389h1v1h-1zM1082 390h1v1h-1zM1083 391h1v1h-1zM1084 392h2v1h-2zM1086 393h2v1h-2zM1088 394h1v1h-1zM1089 395h2v1h-2zM1091 396h2v1h-2zM1093 397h3v1h-3zM1096 398h2v1h-2zM1098 399h3v1h-3zM1101 400h2v1h-2zM1103 401h2v1h-2zM1105 402h2v1h-2zM1107 403h1v1h-1zM1108 404h2v1h-2zM1110 405h1v1h-1zM1111 406h1v1h-1zM1112 407h2v1h-2zM1114 408h1v1h-1zM1115 409h1v1h-1zM1116 410h1v1h-1zM1117 411h1v2h-1zM1118 413h1v1h-1zM1119 414h1v1h-1zM1120 415h1v1h-1zM1121 416h1v2h-1zM1122 418h1v1h-1zM1123 419h1v1h-1zM1124 420h1v1h-1zM1125 421h1v1h-1zM1126 422h1v1h-1zM1127 423h1v2h-1zM1128 425h1v1h-1zM1129 426h1v1h-1zM1130 427h1v1h-1zM1131 428h1v1h-1zM1132 429h1v1h-1zM1133 430h1v2h-1zM1134 432h1v1h-1zM1135 433h1v1h-1zM1136 434h1v1h-1zM1392 434h12v1h-12zM1137 435h1v2h-1zM1384 435h8v1h-8zM1404 435h1v1h-1zM1379 436h5v1h-5zM1405 436h1v1h-1zM1138 437h1v1h-1zM1377 437h2v1h-2zM1406 437h2v1h-2zM1139 438h1v1h-1zM1375 438h2v1h-2zM1408 438h1v1h-1zM1140 439h2v1h-2zM1373 439h2v1h-2zM1409 439h1v1h-1zM1142 440h2v1h-2zM1371 440h2v1h-2zM1410 440h1v1h-1zM1144 441h1v1h-1zM1369 441h2v1h-2zM1411 441h1v1h-1zM1145 442h2v1h-2zM1367 442h2v1h-2zM1147 443h2v1h-2zM1365 443h2v1h-2zM1149 444h2v1h-2zM1363 444h2v1h-2zM1151 445h2v1h-2zM1361 445h2v1h-2zM1153 446h2v1h-2zM1336 446h8v1h-8zM1359 446h2v1h-2zM1155 447h3v1h-3zM1312 447h24v1h-24zM1344 447h8v1h-8zM1357 447h2v1h-2zM1158 448h4v1h-4zM1306 448h6v1h-6zM1352 448h5v1h-5zM1162 449h4v1h-4zM1304 449h2v1h-2zM1166 450h4v1h-4zM1301 450h3v1h-3zM1170 451h4v1h-4zM1299 451h2v1h-2zM1174 452h4v1h-4zM1297 452h2v1h-2zM1178 453h6v1h-6zM1192 453h5v1h-5zM1295 453h2v1h-2zM1184 454h8v1h-8zM1197 454h3v1h-3zM1293 454h2v1h-2zM1200 455h2v1h-2zM1290 455h3v1h-3zM1202 456h4v1h-4zM1288 456h2v1h-2zM1206 457h4v1h-4zM1285 457h3v1h-3zM1210 458h3v1h-3zM1248 458h8v1h-8zM1282 458h3v1h-3zM1213 459h3v1h-3zM1240 459h8v1h-8zM1256 459h16v1h-16zM1278 459h4v1h-4zM1216 460h2v1h-2zM1232 460h8v1h-8zM1272 460h6v1h-6zM1218 461h14v1h-14z" fill="#3cb371"/>
<path d="M760 171h5v1h-5zM754 172h6v1h-6zM765 172h3v1h-3zM750 173h4v1h-4zM768 173h2v1h-2zM747 174h3v1h-3zM770 174h3v1h-3zM745 175h2v1h-2zM773 175h3v1h-3zM743 176h2v1h-2zM776 176h2v1h-2zM784 176h12v1h-12zM741 177h2v1h-2zM778 177h6v1h-6zM796 177h1v2h-1zM731 178h10v1h-10zM730 179h1v1h-1zM797 179h1v1h-1zM729 180h1v2h-1zM798 180h1v1h-1zM799 181h1v2h-1zM728 182h1v1h-1zM727 183h1v1h-1zM800 183h1v1h-1zM726 184h1v1h-1zM801 184h1v1h-1zM725 185h1v2h-1zM802 185h1v2h-1zM724 187h1v1h-1zM803 187h1v1h-1zM723 188h1v1h-1zM804 188h1v2h-1zM722 189h1v2h-1zM805 190h1v1h-1zM721 191h1v1h-1zM806 191h1v2h-1zM720 192h1v2h-1zM807 193h1v1h-1zM719 194h1v1h-1zM808 194h1v2h-1zM718 195h1v2h-1zM809 196h1v1h-1zM717 197h1v1h-1zM810 197h1v2h-1zM716 198h1v2h-1zM811 199h1v2h-1zM715 200h1v1h-1zM714 201h1v2h-1zM812 201h1v3h-1zM713 203h1v2h-1zM813 204h1v3h-1zM712 205h1v2h-1zM711 207h1v1h-1zM814 207h1v3h-1zM710 208h1v2h-1zM709 210h1v2h-1zM815 210h1v4h-1zM708 212h1v2h-1zM491 213h1v1h-1zM490 214h1v1h-1zM492 214h1v1h-1zM507 214h1v2h-1zM707 214h1v1h-1zM816 214h1v3h-1zM489 215h1v1h-1zM493 215h1v1h-1zM506 215h1v1h-1zM706 215h1v2h-1zM488 216h1v1h-1zM494 216h2v1h-2zM504 216h2v1h-2zM508 216h1v2h-1zM487 217h1v1h-1zM496 217h1v1h-1zM503 217h1v1h-1zM705 217h1v2h-1zM817 217h1v3h-1zM486 218h1v1h-1zM497 218h1v1h-1zM502 218h1v1h-1zM509 218h1v3h-1zM485 219h1v1h-1zM498 219h1v1h-1zM500 219h2v1h-2zM704 219h1v2h-1zM484 220h1v1h-1zM499 220h1v1h-1zM818 220h1v3h-1zM483 221h1v1h-1zM510 221h1v2h-1zM703 221h1v2h-1zM482 222h1v1h-1zM481 223h1v1h-1zM511 223h1v3h-1zM702 223h1v2h-1zM819 223h1v3h-1zM480 224h1v1h-1zM479 225h1v1h-1zM701 225h1v2h-1zM478 226h1v1h-1zM512 226h1v2h-1zM820 226h1v3h-1zM477 227h1v1h-1zM700 227h1v2h-1zM476 228h1v1h-1zM513 228h1v3h-1zM475 229h1v1h-1zM699 229h1v1h-1zM821 229h1v3h-1zM474 230h1v1h-1zM698 230h1v2h-1zM473 231h1v1h-1zM514 231h1v2h-1zM472 232h1v1h-1zM697 232h1v1h-1zM822 232h1v3h-1zM470 233h2v1h-2zM515 233h1v3h-1zM696 233h1v1h-1zM469 234h1v1h-1zM695 234h1v2h-1zM468 235h1v1h-1zM823 235h1v4h-1zM467 236h1v1h-1zM516 236h1v2h-1zM694 236h1v1h-1zM466 237h1v1h-1zM693 237h1v1h-1zM464 238h2v1h-2zM517 238h1v3h-1zM692 238h1v2h-1zM463 239h1v1h-1zM824 239h1v3h-1zM462 240h1v1h-1zM691 240h1v2h-1zM460 241h2v1h-2zM518 241h1v2h-1zM459 242h1v1h-1zM690 242h1v2h-1zM825 242h1v3h-1zM458 243h1v1h-1zM519 243h1v3h-1zM457 244h1v1h-1zM689 244h1v2h-1zM456 245h1v1h-1zM826 245h1v3h-1zM454 246h2v1h-2zM520 246h1v2h-1zM688 246h1v3h-1zM453 247h1v1h-1zM452 248h1v1h-1zM521 248h1v3h-1zM827 248h1v3h-1zM451 249h1v1h-1zM687 249h1v2h-1zM450 250h1v1h-1zM448 251h2v1h-2zM522 251h1v2h-1zM686 251h1v3h-1zM828 251h1v3h-1zM447 252h1v1h-1zM446 253h1v1h-1zM523 253h1v3h-1zM444 254h2v1h-2zM685 254h1v2h-1zM829 254h1v4h-1zM443 255h1v1h-1zM442 256h1v1h-1zM524 256h1v2h-1zM684 256h1v2h-1zM441 257h1v1h-1zM440 258h1v1h-1zM525 258h1v2h-1zM683 258h1v2h-1zM830 258h1v3h-1zM438 259h2v1h-2zM437 260h1v1h-1zM526 260h1v2h-1zM682 260h1v2h-1zM436 261h1v1h-1zM831 261h1v3h-1zM435 262h1v1h-1zM527 262h1v2h-1zM681 262h1v2h-1zM434 263h1v1h-1zM433 264h1v1h-1zM528 264h1v2h-1zM680 264h1v2h-1zM832 264h1v3h-1zM432 265h1v1h-1zM430 266h2v1h-2zM529 266h1v2h-1zM679 266h1v2h-1zM429 267h1v1h-1zM833 267h1v4h-1zM428 268h1v1h-1zM530 268h1v2h-1zM678 268h1v2h-1zM427 269h1v1h-1zM425 270h2v1h-2zM531 270h2v1h-2zM677 270h1v2h-1zM424 271h1v1h-1zM533 271h2v1h-2zM834 271h1v3h-1zM422 272h2v1h-2zM535 272h2v1h-2zM676 272h1v2h-1zM420 273h2v1h-2zM537 273h2v1h-2zM416 274h4v1h-4zM539 274h1v1h-1zM675 274h1v1h-1zM835 274h1v3h-1zM411 275h5v1h-5zM540 275h2v1h-2zM674 275h1v2h-1zM409 276h2v1h-2zM542 276h1v1h-1zM408 277h1v1h-1zM543 277h1v1h-1zM673 277h1v2h-1zM836 277h1v2h-1zM406 278h2v1h-2zM544 278h2v1h-2zM404 279h2v1h-2zM546 279h1v1h-1zM672 279h1v1h-1zM837 279h1v2h-1zM403 280h1v1h-1zM547 280h5v1h-5zM570 280h6v1h-6zM671 280h1v2h-1zM401 281h2v1h-2zM552 281h8v1h-8zM566 281h4v1h-4zM576 281h24v1h-24zM838 281h1v3h-1zM399 282h2v1h-2zM560 282h6v1h-6zM600 282h6v1h-6zM670 282h1v1h-1zM397 283h2v1h-2zM606 283h4v1h-4zM616 283h32v1h-32zM669 283h1v2h-1zM395 284h2v1h-2zM610 284h6v1h-6zM648 284h6v1h-6zM839 284h1v2h-1zM394 285h1v2h-1zM654 285h4v1h-4zM668 285h1v2h-1zM658 286h6v1h-6zM840 286h1v3h-1zM393 287h1v1h-1zM664 287h4v1h-4zM392 288h1v2h-1zM841 289h1v2h-1zM391 290h1v1h-1zM390 291h1v2h-1zM842 291h1v2h-1zM389 293h1v1h-1zM843 293h1v3h-1zM388 294h1v2h-1zM387 296h1v1h-1zM844 296h1v2h-1zM386 297h1v1h-1zM385 298h1v2h-1zM845 298h1v3h-1zM384 300h1v1h-1zM383 301h1v1h-1zM846 301h1v3h-1zM362 302h2v1h-2zM382 302h1v1h-1zM358 303h4v1h-4zM364 303h1v1h-1zM381 303h1v2h-1zM355 304h3v1h-3zM365 304h1v1h-1zM847 304h1v2h-1zM353 305h2v1h-2zM366 305h1v1h-1zM380 305h1v1h-1zM351 306h2v1h-2zM367 306h1v1h-1zM379 306h1v1h-1zM848 306h1v3h-1zM349 307h2v1h-2zM368 307h1v1h-1zM377 307h2v1h-2zM347 308h2v1h-2zM369 308h1v1h-1zM375 308h2v1h-2zM346 309h1v2h-1zM370 309h1v1h-1zM373 309h2v1h-2zM849 309h1v3h-1zM371 310h2v1h-2zM345 311h1v2h-1zM850 312h1v2h-1zM344 313h1v2h-1zM851 314h1v3h-1zM343 315h1v2h-1zM342 317h1v2h-1zM852 317h1v4h-1zM341 319h1v2h-1zM340 321h1v2h-1zM853 321h1v4h-1zM339 323h1v1h-1zM338 324h1v1h-1zM337 325h1v1h-1zM854 325h1v3h-1zM336 326h1v1h-1zM335 327h1v1h-1zM334 328h1v1h-1zM855 328h1v4h-1zM333 329h1v1h-1zM332 330h1v1h-1zM331 331h1v2h-1zM856 332h1v3h-1zM330 333h1v3h-1zM857 335h1v4h-1zM329 336h1v3h-1zM328 339h1v3h-1zM858 339h1v4h-1zM327 342h1v3h-1zM859 343h1v2h-1zM326 345h1v3h-1zM860 345h1v2h-1zM861 347h1v2h-1zM325 348h1v3h-1zM862 349h1v1h-1zM863 350h1v2h-1zM324 351h1v3h-1zM864 352h1v1h-1zM865 353h1v2h-1zM323 354h1v2h-1zM866 355h1v2h-1zM322 356h1v2h-1zM867 357h1v1h-1zM321 358h1v2h-1zM868 358h1v2h-1zM320 360h1v2h-1zM869 360h1v2h-1zM319 362h1v2h-1zM870 362h1v2h-1zM971 362h2v1h-2zM969 363h2v1h-2zM973 363h3v1h-3zM318 364h1v2h-1zM871 364h1v2h-1zM954 364h3v1h-3zM968 364h1v1h-1zM976 364h2v1h-2zM952 365h2v1h-2zM957 365h3v1h-3zM966 365h2v1h-2zM978 365h2v1h-2zM317 366h1v2h-1zM872 366h1v2h-1zM949 366h3v1h-3zM960 366h2v1h-2zM964 366h2v1h-2zM979 366h1v1h-1zM947 367h2v1h-2zM962 367h2v1h-2zM980 367h1v3h-1zM316 368h1v2h-1zM873 368h1v2h-1zM923 368h3v1h-3zM945 368h2v1h-2zM235 369h1v1h-1zM921 369h2v1h-2zM926 369h4v1h-4zM944 369h1v1h-1zM233 370h2v1h-2zM236 370h2v1h-2zM315 370h1v2h-1zM874 370h1v2h-1zM920 370h1v1h-1zM930 370h4v1h-4zM942 370h2v1h-2zM981 370h1v3h-1zM231 371h2v1h-2zM238 371h1v1h-1zM918 371h2v1h-2zM934 371h4v1h-4zM940 371h2v1h-2zM229 372h2v1h-2zM239 372h1v1h-1zM314 372h1v1h-1zM875 372h1v1h-1zM916 372h2v1h-2zM938 372h2v1h-2zM227 373h2v1h-2zM240 373h2v1h-2zM312 373h2v1h-2zM876 373h2v1h-2zM915 373h1v1h-1zM982 373h1v3h-1zM226 374h1v1h-1zM242 374h1v1h-1zM311 374h1v1h-1zM878 374h2v1h-2zM913 374h2v1h-2zM224 375h2v1h-2zM243 375h1v1h-1zM310 375h1v1h-1zM880 375h1v1h-1zM911 375h2v1h-2zM223 376h1v1h-1zM244 376h2v1h-2zM308 376h2v1h-2zM881 376h2v1h-2zM888 376h8v1h-8zM909 376h2v1h-2zM983 376h1v4h-1zM222 377h1v1h-1zM246 377h1v1h-1zM307 377h1v1h-1zM883 377h5v1h-5zM896 377h13v1h-13zM220 378h2v1h-2zM247 378h1v1h-1zM306 378h1v1h-1zM219 379h1v1h-1zM248 379h2v1h-2zM305 379h1v1h-1zM218 380h1v2h-1zM250 380h1v1h-1zM304 380h1v1h-1zM984 380h1v3h-1zM251 381h1v1h-1zM302 381h2v1h-2zM217 382h1v2h-1zM252 382h1v1h-1zM301 382h1v1h-1zM253 383h1v2h-1zM300 383h1v1h-1zM985 383h1v3h-1zM216 384h1v1h-1zM299 384h1v1h-1zM215 385h1v2h-1zM254 385h1v1h-1zM297 385h2v1h-2zM255 386h1v1h-1zM295 386h2v1h-2zM986 386h1v3h-1zM214 387h1v1h-1zM256 387h1v1h-1zM293 387h2v1h-2zM213 388h1v2h-1zM257 388h1v2h-1zM288 388h5v1h-5zM280 389h8v1h-8zM987 389h1v3h-1zM212 390h1v2h-1zM258 390h1v1h-1zM272 390h8v1h-8zM259 391h13v1h-13zM211 392h1v2h-1zM988 392h1v3h-1zM210 394h1v2h-1zM989 395h1v3h-1zM209 396h1v2h-1zM208 398h1v3h-1zM990 398h1v3h-1zM207 401h1v2h-1zM991 401h1v3h-1zM206 403h1v3h-1zM992 404h1v3h-1zM205 406h1v2h-1zM993 407h1v3h-1zM204 408h1v2h-1zM203 410h1v2h-1zM994 410h1v3h-1zM202 412h1v2h-1zM995 413h1v3h-1zM201 414h1v1h-1zM200 415h1v1h-1zM199 416h1v2h-1zM996 416h1v3h-1zM198 418h1v1h-1zM197 419h1v1h-1zM997 419h1v3h-1zM196 420h1v2h-1zM195 422h1v1h-1zM998 422h1v3h-1zM194 423h1v1h-1zM193 424h1v1h-1zM192 425h1v1h-1zM999 425h1v4h-1zM190 426h2v1h-2zM189 427h1v1h-1zM188 428h1v1h-1zM187 429h1v1h-1zM1000 429h1v3h-1zM186 430h1v2h-1zM185 432h1v1h-1zM1001 432h1v3h-1zM184 433h1v2h-1zM183 435h1v1h-1zM1002 435h1v3h-1zM182 436h1v2h-1zM181 438h1v1h-1zM1003 438h1v3h-1zM180 439h1v2h-1zM179 441h1v1h-1zM1004 441h1v2h-1zM178 442h1v2h-1zM1005 443h1v2h-1zM177 444h1v2h-1zM1006 445h1v2h-1zM176 446h1v1h-1zM175 447h1v2h-1zM1007 447h1v2h-1zM174 449h1v1h-1zM1008 449h1v2h-1zM173 450h1v2h-1zM1009 451h1v2h-1zM172 452h1v2h-1zM1010 453h1v2h-1zM168 454h4v1h-4zM162 455h6v1h-6zM1011 455h1v1h-1zM160 456h2v1h-2zM1012 456h1v1h-1zM157 457h3v1h-3zM1013 457h1v2h-1zM155 458h2v1h-2zM153 459h2v1h-2zM1014 459h1v1h-1zM151 460h2v1h-2zM1015 460h1v1h-1zM149 461h2v1h-2zM1016 461h1v1h-1zM147 462h2v1h-2zM1017 462h1v2h-1zM145 463h2v1h-2zM144 464h1v1h-1zM1018 464h1v1h-1zM142 465h2v1h-2zM1019 465h1v1h-1zM140 466h2v1h-2zM1020 466h1v1h-1zM139 467h1v1h-1zM1021 467h1v2h-1zM138 468h1v2h-1zM1022 469h1v1h-1zM137 470h1v2h-1zM1023 470h1v1h-1zM1024 471h1v1h-1zM136 472h1v2h-1zM1025 472h1v2h-1zM135 474h1v1h-1zM1026 474h1v1h-1zM134 475h1v2h-1zM1027 475h1v1h-1zM1028 476h1v2h-1zM133 477h1v2h-1zM1029 478h1v2h-1zM132 479h1v2h-1zM1030 480h1v1h-1zM131 481h1v2h-1zM1031 481h1v2h-1zM130 483h1v3h-1zM1032 483h1v1h-1zM1112 483h4v1h-4zM1033 484h1v2h-1zM1106 484h6v1h-6zM1115 484h1v1h-1zM1102 485h4v1h-4zM1116 485h1v2h-1zM129 486h1v2h-1zM1034 486h1v2h-1zM1096 486h6v1h-6zM1088 487h8v1h-8zM1117 487h1v2h-1zM128 488h1v3h-1zM1035 488h1v1h-1zM1083 488h5v1h-5zM1036 489h1v1h-1zM1082 489h1v1h-1zM1118 489h1v2h-1zM1037 490h1v1h-1zM1081 490h1v1h-1zM127 491h1v3h-1zM1038 491h2v1h-2zM1080 491h1v1h-1zM1119 491h1v2h-1zM1040 492h1v1h-1zM1079 492h1v2h-1zM1041 493h1v1h-1zM1120 493h1v2h-1zM126 494h1v3h-1zM1042 494h1v1h-1zM1078 494h1v1h-1zM1043 495h1v1h-1zM1077 495h1v1h-1zM1121 495h1v2h-1zM1044 496h2v1h-2zM1076 496h1v1h-1zM125 497h1v2h-1zM1046 497h1v1h-1zM1075 497h1v1h-1zM1122 497h1v2h-1zM1047 498h1v1h-1zM1074 498h1v1h-1zM124 499h1v3h-1zM1048 499h2v1h-2zM1073 499h1v1h-1zM1123 499h2v1h-2zM1050 500h1v1h-1zM1072 500h1v1h-1zM1125 500h2v1h-2zM1051 501h3v1h-3zM1070 501h2v1h-2zM1127 501h2v1h-2zM123 502h1v2h-1zM1054 502h4v1h-4zM1069 502h1v1h-1zM1129 502h2v1h-2zM107 503h16v1h-16zM1058 503h6v1h-6zM1068 503h1v1h-1zM1131 503h1v1h-1zM106 504h1v1h-1zM1064 504h4v1h-4zM1132 504h1v1h-1zM105 505h1v1h-1zM1133 505h1v1h-1zM104 506h1v1h-1zM1134 506h2v1h-2zM103 507h1v2h-1zM1136 507h1v1h-1zM1137 508h1v1h-1zM102 509h1v1h-1zM1138 509h1v1h-1zM101 510h1v1h-1zM1139 510h1v1h-1zM100 511h1v1h-1zM1140 511h1v2h-1zM1378 511h6v1h-6zM99 512h1v1h-1zM1376 512h2v1h-2zM1384 512h16v1h-16zM98 513h1v1h-1zM1141 513h1v2h-1zM1373 513h3v1h-3zM1400 513h4v1h-4zM97 514h1v1h-1zM1370 514h3v1h-3zM1404 514h1v1h-1zM96 515h1v1h-1zM1142 515h1v1h-1zM1368 515h2v1h-2zM1405 515h1v2h-1zM94 516h2v1h-2zM1143 516h1v2h-1zM1365 516h3v1h-3zM93 517h1v1h-1zM1360 517h5v1h-5zM1406 517h1v1h-1zM92 518h1v1h-1zM1144 518h1v1h-1zM1336 518h24v1h-24zM1407 518h1v1h-1zM91 519h1v1h-1zM1145 519h1v2h-1zM1328 519h8v1h-8zM1408 519h1v1h-1zM90 520h1v2h-1zM1320 520h8v1h-8zM1409 520h1v2h-1zM1146 521h1v2h-1zM1315 521h5v1h-5zM89 522h1v1h-1zM1313 522h2v1h-2zM1410 522h1v1h-1zM88 523h1v2h-1zM1147 523h1v1h-1zM1312 523h1v1h-1zM1411 523h1v1h-1zM1148 524h1v2h-1zM1310 524h2v1h-2zM87 525h1v1h-1zM1308 525h2v1h-2zM86 526h1v2h-1zM1149 526h1v2h-1zM1307 526h1v1h-1zM1306 527h1v1h-1zM85 528h1v1h-1zM1150 528h1v2h-1zM1305 528h1v1h-1zM84 529h1v2h-1zM1304 529h1v1h-1zM0 530h1v1h-1zM1151 530h1v1h-1zM1303 530h1v1h-1zM1 531h1v1h-1zM83 531h1v1h-1zM1152 531h1v2h-1zM1302 531h1v1h-1zM2 532h1v1h-1zM82 532h1v2h-1zM1301 532h1v1h-1zM3 533h9v1h-9zM1153 533h1v2h-1zM1300 533h1v1h-1zM12 534h1v1h-1zM81 534h1v2h-1zM1299 534h1v1h-1zM13 535h1v1h-1zM1154 535h1v2h-1zM1298 535h1v1h-1zM14 536h1v1h-1zM80 536h1v2h-1zM1297 536h1v2h-1zM15 537h1v2h-1zM1155 537h3v1h-3zM79 538h1v1h-1zM1158 538h4v1h-4zM1296 538h1v1h-1zM16 539h1v1h-1zM78 539h1v2h-1zM1162 539h3v1h-3zM1295 539h1v1h-1zM17 540h1v1h-1zM1165 540h3v1h-3zM1294 540h1v1h-1zM18 541h1v1h-1zM77 541h1v2h-1zM1168 541h2v1h-2zM1293 541h1v2h-1zM19 542h2v1h-2zM34 542h2v1h-2zM1170 542h3v1h-3zM21 543h3v1h-3zM32 543h2v1h-2zM36 543h2v1h-2zM76 543h1v2h-1zM1173 543h3v1h-3zM1292 543h1v1h-1zM24 544h2v1h-2zM29 544h3v1h-3zM38 544h1v1h-1zM1176 544h2v1h-2zM1192 544h6v1h-6zM1291 544h1v1h-1zM26 545h3v1h-3zM39 545h1v1h-1zM75 545h1v1h-1zM1178 545h14v1h-14zM1198 545h4v1h-4zM1289 545h2v1h-2zM40 546h2v1h-2zM73 546h2v1h-2zM1202 546h4v1h-4zM1288 546h1v1h-1zM42 547h1v1h-1zM71 547h2v1h-2zM1206 547h4v1h-4zM1286 547h2v1h-2zM43 548h2v1h-2zM69 548h2v1h-2zM1210 548h6v1h-6zM1284 548h2v1h-2zM45 549h2v1h-2zM64 549h5v1h-5zM1216 549h16v1h-16zM1283 549h1v1h-1zM47 550h2v1h-2zM58 550h6v1h-6zM1232 550h8v1h-8zM1282 550h1v1h-1zM49 551h2v1h-2zM54 551h4v1h-4zM1240 551h5v1h-5zM1280 551h2v1h-2zM51 552h3v1h-3zM1245 552h3v1h-3zM1279 552h1v1h-1zM1248 553h2v1h-2zM1278 553h1v1h-1zM1250 554h22v1h-22zM1276 554h2v1h-2zM1272 555h4v1h-4z" fill="#3cb371"/>
<rect x="0" y="519" width="1623" height="1" fill="#c0c0c0"/>
<rect x="0" y="461" width="1623" height="2" fill="#ff0000"/>
<rect x="0" y="480" width="1623" height="2" fill="#ff0000"/>
<rect x="0" y="496" width="1623" height="2" fill="#32cd32"/>
<rect x="0" y="546" width="1623" height="2" fill="#0000ff"/>
<rect x="0" y="565" width="1623" height="2" fill="#0000ff"/>
<rect x="1354" y="491" width="71" height="11" fill="#00ee00"/>
<g fill="#000"><rect x="3" y="389" width="1" height="67"/><rect x="1" y="400" width="5" height="11"/><rect x="2" y="401" width="3" height="9" fill="#fff"/><rect x="11" y="358" width="1" height="60"/><rect x="9" y="389" width="5" height="11"/><rect x="10" y="390" width="3" height="9" fill="#fff"/><rect x="19" y="366" width="1" height="95"/><rect x="17" y="389" width="5" height="53"/><rect x="27" y="410" width="1" height="69"/><rect x="25" y="432" width="5" height="10"/><rect x="26" y="433" width="3" height="8" fill="#fff"/><rect x="35" y="403" width="1" height="42"/><rect x="33" y="412" width="5" height="21"/><rect x="34" y="413" width="3" height="19" fill="#fff"/><rect x="43" y="411" width="1" height="11"/><rect x="41" y="412" width="5" height="5"/><rect x="51" y="414" width="1" height="46"/><rect x="49" y="415" width="5" height="22"/><rect x="59" y="388" width="1" height="53"/><rect x="57" y="398" width="5" height="39"/><rect x="58" y="399" width="3" height="37" fill="#fff"/><rect x="67" y="348" width="1" height="77"/><rect x="65" y="363" width="5" height="35"/><rect x="66" y="364" width="3" height="33" fill="#fff"/><rect x="75" y="330" width="1" height="66"/><rect x="73" y="353" width="5" height="11"/><rect x="74" y="354" width="3" height="9" fill="#fff"/><rect x="83" y="286" width="1" height="69"/><rect x="81" y="296" width="5" height="58"/><rect x="82" y="297" width="3" height="56" fill="#fff"/><rect x="91" y="297" width="1" height="10"/><rect x="89" y="300" width="5" height="5"/><rect x="99" y="301" width="1" height="23"/><rect x="97" y="302" width="5" height="4"/><rect x="107" y="304" width="1" height="50"/><rect x="105" y="305" width="5" height="29"/><rect x="115" y="276" width="1" height="58"/><rect x="113" y="321" width="5" height="13"/><rect x="114" y="322" width="3" height="11" fill="#fff"/><rect x="123" y="294" width="1" height="35"/><rect x="121" y="312" width="5" height="10"/><rect x="122" y="313" width="3" height="8" fill="#fff"/><rect x="131" y="280" width="1" height="39"/><rect x="129" y="309" width="5" height="4"/><rect x="130" y="310" width="3" height="2" fill="#fff"/><rect x="139" y="315" width="1" height="16"/><rect x="137" y="318" width="5" height="13"/><rect x="147" y="319" width="1" height="34"/><rect x="145" y="328" width="5" height="16"/><rect x="155" y="317" width="1" height="38"/><rect x="153" y="327" width="5" height="18"/><rect x="154" y="328" width="3" height="16" fill="#fff"/><rect x="163" y="299" width="1" height="86"/><rect x="161" y="327" width="5" height="42"/><rect x="171" y="366" width="1" height="47"/><rect x="169" y="369" width="5" height="12"/><rect x="179" y="313" width="1" height="79"/><rect x="177" y="319" width="5" height="62"/><rect x="178" y="320" width="3" height="60" fill="#fff"/><rect x="187" y="322" width="1" height="6"/><rect x="185" y="322" width="5" height="5"/><rect x="195" y="261" width="1" height="66"/><rect x="193" y="277" width="5" height="50"/><rect x="194" y="278" width="3" height="48" fill="#fff"/><rect x="203" y="272" width="1" height="24"/><rect x="201" y="276" width="5" height="6"/><rect x="211" y="271" width="1" height="45"/><rect x="209" y="276" width="5" height="6"/><rect x="210" y="277" width="3" height="4" fill="#fff"/><rect x="219" y="267" width="1" height="45"/><rect x="217" y="276" width="5" height="23"/><rect x="227" y="285" width="1" height="23"/><rect x="225" y="296" width="5" height="2"/><rect x="235" y="288" width="1" height="7"/><rect x="233" y="292" width="5" height="2"/><rect x="243" y="232" width="1" height="65"/><rect x="241" y="240" width="5" height="53"/><rect x="242" y="241" width="3" height="51" fill="#fff"/><rect x="251" y="216" width="1" height="29"/><rect x="249" y="228" width="5" height="12"/><rect x="250" y="229" width="3" height="10" fill="#fff"/><rect x="259" y="179" width="1" height="52"/><rect x="257" y="190" width="5" height="40"/><rect x="258" y="191" width="3" height="38" fill="#fff"/><rect x="267" y="173" width="1" height="62"/><rect x="265" y="191" width="5" height="36"/><rect x="275" y="216" width="1" height="37"/><rect x="273" y="226" width="5" height="9"/><rect x="283" y="223" width="1" height="9"/><rect x="281" y="223" width="5" height="8"/><rect x="282" y="224" width="3" height="6" fill="#fff"/><rect x="291" y="216" width="1" height="18"/><rect x="289" y="221" width="5" height="4"/><rect x="290" y="222" width="3" height="2" fill="#fff"/><rect x="299" y="200" width="1" height="35"/><rect x="297" y="220" width="5" height="3"/><rect x="307" y="189" width="1" height="35"/><rect x="305" y="207" width="5" height="16"/><rect x="306" y="208" width="3" height="14" fill="#fff"/><rect x="315" y="197" width="1" height="28"/><rect x="313" y="206" width="5" height="6"/><rect x="323" y="193" width="1" height="32"/><rect x="321" y="211" width="5" height="2"/><rect x="331" y="203" width="1" height="5"/><rect x="329" y="205" width="5" height="2"/><rect x="339" y="163" width="1" height="61"/><rect x="337" y="180" width="5" height="26"/><rect x="338" y="181" width="3" height="24" fill="#fff"/><rect x="347" y="177" width="1" height="61"/><rect x="345" y="180" width="5" height="46"/><rect x="355" y="177" width="1" height="67"/><rect x="353" y="197" width="5" height="29"/><rect x="354" y="198" width="3" height="27" fill="#fff"/><rect x="363" y="139" width="1" height="77"/><rect x="361" y="151" width="5" height="46"/><rect x="362" y="152" width="3" height="44" fill="#fff"/><rect x="371" y="86" width="1" height="67"/><rect x="369" y="93" width="5" height="59"/><rect x="370" y="94" width="3" height="57" fill="#fff"/><rect x="379" y="96" width="1" height="14"/><rect x="377" y="99" width="5" height="11"/><rect x="378" y="100" width="3" height="9" fill="#fff"/><rect x="387" y="92" width="1" height="35"/><rect x="385" y="100" width="5" height="14"/><rect x="395" y="81" width="1" height="35"/><rect x="393" y="105" width="5" height="9"/><rect x="394" y="106" width="3" height="7" fill="#fff"/><rect x="403" y="101" width="1" height="28"/><rect x="401" y="106" width="5" height="22"/><rect x="411" y="106" width="1" height="35"/><rect x="409" y="126" width="5" height="3"/><rect x="410" y="127" width="3" height="1" fill="#fff"/><rect x="419" y="125" width="1" height="80"/><rect x="417" y="126" width="5" height="52"/><rect x="427" y="170" width="1" height="9"/><rect x="425" y="175" width="5" height="2"/><rect x="435" y="151" width="1" height="45"/><rect x="433" y="154" width="5" height="24"/><rect x="434" y="155" width="3" height="22" fill="#fff"/><rect x="443" y="142" width="1" height="33"/><rect x="441" y="155" width="5" height="2"/><rect x="451" y="142" width="1" height="43"/><rect x="449" y="155" width="5" height="11"/><rect x="459" y="108" width="1" height="64"/><rect x="457" y="116" width="5" height="50"/><rect x="458" y="117" width="3" height="48" fill="#fff"/><rect x="467" y="102" width="1" height="48"/><rect x="465" y="115" width="5" height="25"/><rect x="475" y="133" width="1" height="9"/><rect x="473" y="134" width="5" height="7"/><rect x="474" y="135" width="3" height="5" fill="#fff"/><rect x="483" y="127" width="1" height="31"/><rect x="481" y="134" width="5" height="16"/><rect x="491" y="141" width="1" height="30"/><rect x="489" y="146" width="5" height="4"/><rect x="490" y="147" width="3" height="2" fill="#fff"/><rect x="499" y="121" width="1" height="106"/><rect x="497" y="145" width="5" height="71"/><rect x="507" y="188" width="1" height="61"/><rect x="505" y="201" width="5" height="15"/><rect x="506" y="202" width="3" height="13" fill="#fff"/><rect x="515" y="193" width="1" height="107"/><rect x="513" y="201" width="5" height="69"/><rect x="523" y="263" width="1" height="12"/><rect x="521" y="267" width="5" height="8"/><rect x="522" y="268" width="3" height="6" fill="#fff"/><rect x="531" y="253" width="1" height="50"/><rect x="529" y="265" width="5" height="6"/><rect x="539" y="212" width="1" height="65"/><rect x="537" y="223" width="5" height="48"/><rect x="538" y="224" width="3" height="46" fill="#fff"/><rect x="547" y="210" width="1" height="45"/><rect x="545" y="223" width="5" height="8"/><rect x="555" y="200" width="1" height="74"/><rect x="553" y="218" width="5" height="12"/><rect x="554" y="219" width="3" height="10" fill="#fff"/><rect x="563" y="189" width="1" height="39"/><rect x="561" y="201" width="5" height="17"/><rect x="562" y="202" width="3" height="15" fill="#fff"/><rect x="571" y="184" width="1" height="13"/><rect x="569" y="185" width="5" height="6"/><rect x="570" y="186" width="3" height="4" fill="#fff"/><rect x="579" y="143" width="1" height="60"/><rect x="577" y="143" width="5" height="44"/><rect x="578" y="144" width="3" height="42" fill="#fff"/><rect x="587" y="143" width="1" height="20"/><rect x="585" y="143" width="5" height="14"/><rect x="595" y="132" width="1" height="34"/><rect x="593" y="148" width="5" height="9"/><rect x="594" y="149" width="3" height="7" fill="#fff"/><rect x="603" y="122" width="1" height="33"/><rect x="601" y="124" width="5" height="26"/><rect x="602" y="125" width="3" height="24" fill="#fff"/><rect x="611" y="109" width="1" height="26"/><rect x="609" y="121" width="5" height="5"/><rect x="610" y="122" width="3" height="3" fill="#fff"/><rect x="619" y="118" width="1" height="6"/><rect x="617" y="119" width="5" height="4"/><rect x="618" y="120" width="3" height="2" fill="#fff"/><rect x="627" y="120" width="1" height="39"/><rect x="625" y="120" width="5" height="24"/><rect x="635" y="131" width="1" height="56"/><rect x="633" y="143" width="5" height="34"/><rect x="643" y="159" width="1" height="40"/><rect x="641" y="175" width="5" height="11"/><rect x="651" y="121" width="1" height="65"/><rect x="649" y="125" width="5" height="61"/><rect x="650" y="126" width="3" height="59" fill="#fff"/><rect x="659" y="85" width="1" height="42"/><rect x="657" y="86" width="5" height="40"/><rect x="658" y="87" width="3" height="38" fill="#fff"/><rect x="667" y="88" width="1" height="7"/><rect x="665" y="90" width="5" height="5"/><rect x="666" y="91" width="3" height="3" fill="#fff"/><rect x="675" y="85" width="1" height="19"/><rect x="673" y="90" width="5" height="9"/><rect x="683" y="89" width="1" height="19"/><rect x="681" y="94" width="5" height="5"/><rect x="682" y="95" width="3" height="3" fill="#fff"/><rect x="691" y="78" width="1" height="23"/><rect x="689" y="90" width="5" height="5"/><rect x="690" y="91" width="3" height="3" fill="#fff"/><rect x="699" y="89" width="1" height="26"/><rect x="697" y="90" width="5" height="8"/><rect x="707" y="100" width="1" height="3"/><rect x="705" y="101" width="5" height="1"/><rect x="715" y="94" width="1" height="10"/><rect x="713" y="99" width="5" height="2"/><rect x="723" y="90" width="1" height="36"/><rect x="721" y="99" width="5" height="6"/><rect x="731" y="57" width="1" height="66"/><rect x="729" y="82" width="5" height="23"/><rect x="730" y="83" width="3" height="21" fill="#fff"/><rect x="739" y="71" width="1" height="79"/><rect x="737" y="81" width="5" height="55"/><rect x="747" y="91" width="1" height="55"/><rect x="745" y="129" width="5" height="7"/><rect x="746" y="130" width="3" height="5" fill="#fff"/><rect x="755" y="128" width="1" height="5"/><rect x="753" y="129" width="5" height="2"/><rect x="763" y="102" width="1" height="31"/><rect x="761" y="122" width="5" height="8"/><rect x="762" y="123" width="3" height="6" fill="#fff"/><rect x="771" y="121" width="1" height="43"/><rect x="769" y="122" width="5" height="27"/><rect x="779" y="128" width="1" height="53"/><rect x="777" y="143" width="5" height="6"/><rect x="778" y="144" width="3" height="4" fill="#fff"/><rect x="787" y="124" width="1" height="27"/><rect x="785" y="139" width="5" height="4"/><rect x="786" y="140" width="3" height="2" fill="#fff"/><rect x="795" y="121" width="1" height="57"/><rect x="793" y="139" width="5" height="38"/><rect x="803" y="198" width="1" height="22"/><rect x="801" y="201" width="5" height="18"/><rect x="811" y="188" width="1" height="63"/><rect x="809" y="202" width="5" height="14"/><rect x="810" y="203" width="3" height="12" fill="#fff"/><rect x="819" y="198" width="1" height="63"/><rect x="817" y="202" width="5" height="50"/><rect x="827" y="251" width="1" height="34"/><rect x="825" y="251" width="5" height="23"/><rect x="835" y="268" width="1" height="56"/><rect x="833" y="273" width="5" height="19"/><rect x="843" y="271" width="1" height="53"/><rect x="841" y="284" width="5" height="7"/><rect x="842" y="285" width="3" height="5" fill="#fff"/><rect x="851" y="296" width="1" height="14"/><rect x="849" y="296" width="5" height="13"/><rect x="859" y="293" width="1" height="72"/><rect x="857" y="306" width="5" height="47"/><rect x="867" y="296" width="1" height="57"/><rect x="865" y="305" width="5" height="48"/><rect x="866" y="306" width="3" height="46" fill="#fff"/><rect x="875" y="302" width="1" height="51"/><rect x="873" y="306" width="5" height="18"/><rect x="883" y="278" width="1" height="59"/><rect x="881" y="286" width="5" height="39"/><rect x="882" y="287" width="3" height="37" fill="#fff"/><rect x="891" y="258" width="1" height="64"/><rect x="889" y="265" width="5" height="23"/><rect x="890" y="266" width="3" height="21" fill="#fff"/><rect x="899" y="256" width="1" height="18"/><rect x="897" y="260" width="5" height="13"/><rect x="898" y="261" width="3" height="11" fill="#fff"/><rect x="907" y="246" width="1" height="48"/><rect x="905" y="259" width="5" height="9"/><rect x="915" y="214" width="1" height="58"/><rect x="913" y="224" width="5" height="45"/><rect x="914" y="225" width="3" height="43" fill="#fff"/><rect x="923" y="218" width="1" height="40"/><rect x="921" y="225" width="5" height="33"/><rect x="931" y="242" width="1" height="83"/><rect x="929" y="254" width="5" height="63"/><rect x="939" y="298" width="1" height="44"/><rect x="937" y="314" width="5" height="24"/><rect x="947" y="328" width="1" height="7"/><rect x="945" y="329" width="5" height="2"/><rect x="955" y="313" width="1" height="22"/><rect x="953" y="320" width="5" height="12"/><rect x="954" y="321" width="3" height="10" fill="#fff"/><rect x="963" y="309" width="1" height="39"/><rect x="961" y="319" width="5" height="16"/><rect x="971" y="303" width="1" height="51"/><rect x="969" y="315" width="5" height="19"/><rect x="970" y="316" width="3" height="17" fill="#fff"/><rect x="979" y="282" width="1" height="56"/><rect x="977" y="316" width="5" height="21"/><rect x="987" y="330" width="1" height="94"/><rect x="985" y="336" width="5" height="86"/><rect x="995" y="430" width="1" height="10"/><rect x="993" y="437" width="5" height="3"/><rect x="994" y="438" width="3" height="1" fill="#fff"/><rect x="1003" y="417" width="1" height="52"/><rect x="1001" y="437" width="5" height="18"/><rect x="1011" y="425" width="1" height="47"/><rect x="1009" y="434" width="5" height="21"/><rect x="1010" y="435" width="3" height="19" fill="#fff"/><rect x="1019" y="413" width="1" height="62"/><rect x="1017" y="428" width="5" height="9"/><rect x="1018" y="429" width="3" height="7" fill="#fff"/><rect x="1027" y="406" width="1" height="50"/><rect x="1025" y="416" width="5" height="12"/><rect x="1026" y="417" width="3" height="10" fill="#fff"/><rect x="1035" y="401" width="1" height="68"/><rect x="1033" y="415" width="5" height="29"/><rect x="1043" y="414" width="1" height="6"/><rect x="1041" y="415" width="5" height="2"/><rect x="1051" y="392" width="1" height="37"/><rect x="1049" y="417" width="5" height="9"/><rect x="1059" y="385" width="1" height="41"/><rect x="1057" y="414" width="5" height="11"/><rect x="1058" y="415" width="3" height="9" fill="#fff"/><rect x="1067" y="406" width="1" height="32"/><rect x="1065" y="413" width="5" height="2"/><rect x="1075" y="408" width="1" height="35"/><rect x="1073" y="413" width="5" height="16"/><rect x="1083" y="404" width="1" height="40"/><rect x="1081" y="406" width="5" height="22"/><rect x="1082" y="407" width="3" height="20" fill="#fff"/><rect x="1091" y="404" width="1" height="6"/><rect x="1089" y="405" width="5" height="4"/><rect x="1090" y="406" width="3" height="2" fill="#fff"/><rect x="1099" y="392" width="1" height="19"/><rect x="1097" y="405" width="5" height="4"/><rect x="1107" y="396" width="1" height="57"/><rect x="1105" y="404" width="5" height="5"/><rect x="1106" y="405" width="3" height="3" fill="#fff"/><rect x="1115" y="401" width="1" height="66"/><rect x="1113" y="404" width="5" height="44"/><rect x="1123" y="447" width="1" height="83"/><rect x="1121" y="448" width="5" height="74"/><rect x="1131" y="482" width="1" height="63"/><rect x="1129" y="511" width="5" height="10"/><rect x="1130" y="512" width="3" height="8" fill="#fff"/><rect x="1139" y="514" width="1" height="8"/><rect x="1137" y="516" width="5" height="6"/><rect x="1147" y="500" width="1" height="27"/><rect x="1145" y="518" width="5" height="3"/><rect x="1146" y="519" width="3" height="1" fill="#fff"/><rect x="1155" y="511" width="1" height="58"/><rect x="1153" y="518" width="5" height="16"/><rect x="1163" y="471" width="1" height="64"/><rect x="1161" y="480" width="5" height="53"/><rect x="1162" y="481" width="3" height="51" fill="#fff"/><rect x="1171" y="443" width="1" height="47"/><rect x="1169" y="480" width="5" height="2"/><rect x="1179" y="466" width="1" height="32"/><rect x="1177" y="478" width="5" height="1"/><rect x="1187" y="413" width="1" height="16"/><rect x="1185" y="413" width="5" height="11"/><rect x="1195" y="409" width="1" height="40"/><rect x="1193" y="423" width="5" height="1"/><rect x="1203" y="414" width="1" height="66"/><rect x="1201" y="423" width="5" height="50"/><rect x="1211" y="468" width="1" height="33"/><rect x="1209" y="473" width="5" height="6"/><rect x="1219" y="472" width="1" height="13"/><rect x="1217" y="474" width="5" height="6"/><rect x="1218" y="475" width="3" height="4" fill="#fff"/><rect x="1227" y="399" width="1" height="77"/><rect x="1225" y="406" width="5" height="69"/><rect x="1226" y="407" width="3" height="67" fill="#fff"/><rect x="1235" y="409" width="1" height="7"/><rect x="1233" y="411" width="5" height="3"/><rect x="1243" y="389" width="1" height="44"/><rect x="1241" y="391" width="5" height="23"/><rect x="1242" y="392" width="3" height="21" fill="#fff"/><rect x="1251" y="370" width="1" height="22"/><rect x="1249" y="372" width="5" height="20"/><rect x="1250" y="373" width="3" height="18" fill="#fff"/><rect x="1259" y="367" width="1" height="63"/><rect x="1257" y="373" width="5" height="55"/><rect x="1267" y="402" width="1" height="69"/><rect x="1265" y="403" width="5" height="25"/><rect x="1266" y="404" width="3" height="23" fill="#fff"/><rect x="1275" y="402" width="1" height="74"/><rect x="1273" y="402" width="5" height="74"/><rect x="1283" y="467" width="1" height="10"/><rect x="1281" y="468" width="5" height="6"/><rect x="1291" y="448" width="1" height="32"/><rect x="1289" y="466" width="5" height="8"/><rect x="1290" y="467" width="3" height="6" fill="#fff"/><rect x="1299" y="423" width="1" height="47"/><rect x="1297" y="439" width="5" height="28"/><rect x="1298" y="440" width="3" height="26" fill="#fff"/><rect x="1307" y="428" width="1" height="39"/><rect x="1305" y="439" width="5" height="25"/><rect x="1315" y="456" width="1" height="74"/><rect x="1313" y="462" width="5" height="50"/><rect x="1323" y="459" width="1" height="60"/><rect x="1321" y="477" width="5" height="35"/><rect x="1322" y="478" width="3" height="33" fill="#fff"/><rect x="1331" y="472" width="1" height="6"/><rect x="1329" y="474" width="5" height="2"/><rect x="1339" y="451" width="1" height="33"/><rect x="1337" y="467" width="5" height="7"/><rect x="1338" y="468" width="3" height="5" fill="#fff"/><rect x="1347" y="431" width="1" height="43"/><rect x="1345" y="436" width="5" height="32"/><rect x="1346" y="437" width="3" height="30" fill="#fff"/><rect x="1355" y="432" width="1" height="32"/><rect x="1353" y="436" width="5" height="5"/><rect x="1363" y="389" width="1" height="66"/><rect x="1361" y="396" width="5" height="45"/><rect x="1362" y="397" width="3" height="43" fill="#fff"/><rect x="1371" y="382" width="1" height="21"/><rect x="1369" y="393" width="5" height="3"/><rect x="1370" y="394" width="3" height="1" fill="#fff"/><rect x="1379" y="398" width="1" height="6"/><rect x="1377" y="400" width="5" height="1"/><rect x="1387" y="377" width="1" height="43"/><rect x="1385" y="380" width="5" height="20"/><rect x="1386" y="381" width="3" height="18" fill="#fff"/><rect x="1395" y="375" width="1" height="42"/><rect x="1393" y="379" width="5" height="28"/><rect x="1403" y="371" width="1" height="43"/><rect x="1401" y="383" width="5" height="24"/><rect x="1402" y="384" width="3" height="22" fill="#fff"/><rect x="1411" y="338" width="1" height="188"/><rect x="1409" y="382" width="5" height="138"/></g>
</g>
<rect x="1617" y="459" width="6" height="6" fill="#ff0000" shape-rendering="crispEdges"/><rect x="1619" y="461" width="2" height="2" fill="#fff" shape-rendering="crispEdges"/>
<rect x="1617" y="478" width="6" height="6" fill="#ff0000" shape-rendering="crispEdges"/><rect x="1619" y="480" width="2" height="2" fill="#fff" shape-rendering="crispEdges"/>
<rect x="1617" y="494" width="6" height="6" fill="#32cd32" shape-rendering="crispEdges"/><rect x="1619" y="496" width="2" height="2" fill="#fff" shape-rendering="crispEdges"/>
<rect x="1617" y="544" width="6" height="6" fill="#0000ff" shape-rendering="crispEdges"/><rect x="1619" y="546" width="2" height="2" fill="#fff" shape-rendering="crispEdges"/>
<rect x="1617" y="563" width="6" height="6" fill="#0000ff" shape-rendering="crispEdges"/><rect x="1619" y="565" width="2" height="2" fill="#fff" shape-rendering="crispEdges"/>
<polyline points="1155.4,562.6 1246.8,377.2 1310.6,518.7 1408.3,343.6 1440.3,562.6" fill="none" stroke="#ffff00" stroke-width="7.5" stroke-linejoin="round" stroke-linecap="round" shape-rendering="crispEdges"/>
<text x="1440" y="449" font-family='"Liberation Serif","Noto Serif CJK SC",serif' font-weight="600" font-size="30" fill="#001030" textLength="161" lengthAdjust="spacingAndGlyphs" transform="translate(1.2,1.2)">多空转折点</text>
<text x="1440" y="449" font-family='"Liberation Serif","Noto Serif CJK SC",serif' font-weight="600" font-size="30" fill="#00ff00" textLength="161" lengthAdjust="spacingAndGlyphs">多空转折点</text>
<rect x="1438.5" y="482.5" width="99" height="31" fill="#fff" stroke="#ff0000" stroke-width="1" shape-rendering="crispEdges"/>
<text x="1441" y="508" font-family='"Liberation Sans","Noto Sans CJK SC",sans-serif' font-size="28.5" fill="#ff0000" textLength="94.5" lengthAdjust="spacingAndGlyphs">107.554</text>
<rect x="1434.5" y="495.5" width="3" height="3" fill="#fff" stroke="#ff0000" stroke-width="1" shape-rendering="crispEdges"/>
<g shape-rendering="crispEdges">
<rect x="0" y="29" width="1624" height="1" fill="#000"/>
<rect x="1623" y="29" width="1" height="554" fill="#000"/>
<rect x="1623" y="584" width="1" height="184" fill="#000"/>
<rect x="1623" y="769" width="1" height="161" fill="#000"/>
<rect x="0" y="582" width="1624" height="1" fill="#000"/>
<rect x="0" y="584" width="1624" height="1" fill="#000"/>
<rect x="0" y="767" width="1624" height="1" fill="#000"/>
<rect x="0" y="769" width="1624" height="1" fill="#000"/>
<rect x="0" y="929" width="1624" height="1" fill="#000"/>
</g>
<text x="1629.5" y="55" font-family='"DejaVu Sans","Liberation Sans",sans-serif' font-stretch="condensed" font-size="9" font-weight="normal" fill="#000" stroke="#000" stroke-width="0.22" text-anchor="start" textLength="32.7" lengthAdjust="spacingAndGlyphs">112.450</text>
<text x="1629.5" y="88" font-family='"DejaVu Sans","Liberation Sans",sans-serif' font-stretch="condensed" font-size="9" font-weight="normal" fill="#000" stroke="#000" stroke-width="0.22" text-anchor="start" textLength="32.7" lengthAdjust="spacingAndGlyphs">112.090</text>
<text x="1629.5" y="121" font-family='"DejaVu Sans","Liberation Sans",sans-serif' font-stretch="condensed" font-size="9" font-weight="normal" fill="#000" stroke="#000" stroke-width="0.22" text-anchor="start" textLength="32.7" lengthAdjust="spacingAndGlyphs">111.730</text>
<text x="1629.5" y="154" font-family='"DejaVu Sans","Liberation Sans",sans-serif' font-stretch="condensed" font-size="9" font-weight="normal" fill="#000" stroke="#000" stroke-width="0.22" text-anchor="start" textLength="32.7" lengthAdjust="spacingAndGlyphs">111.360</text>
<text x="1629.5" y="187" font-family='"DejaVu Sans","Liberation Sans",sans-serif' font-stretch="condensed" font-size="9" font-weight="normal" fill="#000" stroke="#000" stroke-width="0.22" text-anchor="start" textLength="32.7" lengthAdjust="spacingAndGlyphs">111.000</text>
<text x="1629.5" y="220" font-family='"DejaVu Sans","Liberation Sans",sans-serif' font-stretch="condensed" font-size="9" font-weight="normal" fill="#000" stroke="#000" stroke-width="0.22" text-anchor="start" textLength="32.7" lengthAdjust="spacingAndGlyphs">110.640</text>
<text x="1629.5" y="253" font-family='"DejaVu Sans","Liberation Sans",sans-serif' font-stretch="condensed" font-size="9" font-weight="normal" fill="#000" stroke="#000" stroke-width="0.22" text-anchor="start" textLength="32.7" lengthAdjust="spacingAndGlyphs">110.280</text>
<text x="1629.5" y="286" font-family='"DejaVu Sans","Liberation Sans",sans-serif' font-stretch="condensed" font-size="9" font-weight="normal" fill="#000" stroke="#000" stroke-width="0.22" text-anchor="start" textLength="32.7" lengthAdjust="spacingAndGlyphs">109.920</text>
<text x="1629.5" y="319" font-family='"DejaVu Sans","Liberation Sans",sans-serif' font-stretch="condensed" font-size="9" font-weight="normal" fill="#000" stroke="#000" stroke-width="0.22" text-anchor="start" textLength="32.7" lengthAdjust="spacingAndGlyphs">109.560</text>
<text x="1629.5" y="352" font-family='"DejaVu Sans","Liberation Sans",sans-serif' font-stretch="condensed" font-size="9" font-weight="normal" fill="#000" stroke="#000" stroke-width="0.22" text-anchor="start" textLength="32.7" lengthAdjust="spacingAndGlyphs">109.190</text>
<text x="1629.5" y="385" font-family='"DejaVu Sans","Liberation Sans",sans-serif' font-stretch="condensed" font-size="9" font-weight="normal" fill="#000" stroke="#000" stroke-width="0.22" text-anchor="start" textLength="32.7" lengthAdjust="spacingAndGlyphs">108.830</text>
<text x="1629.5" y="418" font-family='"DejaVu Sans","Liberation Sans",sans-serif' font-stretch="condensed" font-size="9" font-weight="normal" fill="#000" stroke="#000" stroke-width="0.22" text-anchor="start" textLength="32.7" lengthAdjust="spacingAndGlyphs">108.470</text>
<text x="1629.5" y="451" font-family='"DejaVu Sans","Liberation Sans",sans-serif' font-stretch="condensed" font-size="9" font-weight="normal" fill="#000" stroke="#000" stroke-width="0.22" text-anchor="start" textLength="32.7" lengthAdjust="spacingAndGlyphs">108.110</text>
<text x="1629.5" y="517" font-family='"DejaVu Sans","Liberation Sans",sans-serif' font-stretch="condensed" font-size="9" font-weight="normal" fill="#000" stroke="#000" stroke-width="0.22" text-anchor="start" textLength="32.7" lengthAdjust="spacingAndGlyphs">107.380</text>
<text x="1629.5" y="583" font-family='"DejaVu Sans","Liberation Sans",sans-serif' font-stretch="condensed" font-size="9" font-weight="normal" fill="#000" stroke="#000" stroke-width="0.22" text-anchor="start" textLength="32.7" lengthAdjust="spacingAndGlyphs">106.660</text>
<g fill="#000" shape-rendering="crispEdges"><rect x="1624" y="51" width="2" height="1"/><rect x="1624" y="84" width="2" height="1"/><rect x="1624" y="117" width="2" height="1"/><rect x="1624" y="150" width="2" height="1"/><rect x="1624" y="183" width="2" height="1"/><rect x="1624" y="216" width="2" height="1"/><rect x="1624" y="249" width="2" height="1"/><rect x="1624" y="282" width="2" height="1"/><rect x="1624" y="315" width="2" height="1"/><rect x="1624" y="348" width="2" height="1"/><rect x="1624" y="381" width="2" height="1"/><rect x="1624" y="414" width="2" height="1"/><rect x="1624" y="447" width="2" height="1"/><rect x="1624" y="480" width="2" height="1"/><rect x="1624" y="513" width="2" height="1"/><rect x="1624" y="546" width="2" height="1"/><rect x="1624" y="579" width="2" height="1"/></g>
<rect x="1625" y="456" width="41" height="11" fill="#ff0000" shape-rendering="crispEdges"/>
<text x="1629.5" y="465" font-family='"DejaVu Sans","Liberation Sans",sans-serif' font-stretch="condensed" font-size="9" font-weight="normal" fill="#fff" stroke="#fff" stroke-width="0.22" text-anchor="start" textLength="32.7" lengthAdjust="spacingAndGlyphs">107.945</text>
<rect x="1625" y="475" width="41" height="11" fill="#ff0000" shape-rendering="crispEdges"/>
<text x="1629.5" y="484" font-family='"DejaVu Sans","Liberation Sans",sans-serif' font-stretch="condensed" font-size="9" font-weight="normal" fill="#fff" stroke="#fff" stroke-width="0.22" text-anchor="start" textLength="32.7" lengthAdjust="spacingAndGlyphs">107.737</text>
<rect x="1625" y="491" width="41" height="11" fill="#32cd32" shape-rendering="crispEdges"/>
<text x="1629.5" y="500" font-family='"DejaVu Sans","Liberation Sans",sans-serif' font-stretch="condensed" font-size="9" font-weight="normal" fill="#fff" stroke="#fff" stroke-width="0.22" text-anchor="start" textLength="32.7" lengthAdjust="spacingAndGlyphs">107.554</text>
<rect x="1625" y="514" width="41" height="11" fill="#000" shape-rendering="crispEdges"/>
<text x="1629.5" y="523" font-family='"DejaVu Sans","Liberation Sans",sans-serif' font-stretch="condensed" font-size="9" font-weight="normal" fill="#fff" stroke="#fff" stroke-width="0.22" text-anchor="start" textLength="32.7" lengthAdjust="spacingAndGlyphs">107.320</text>
<rect x="1625" y="541" width="41" height="11" fill="#0000ff" shape-rendering="crispEdges"/>
<text x="1629.5" y="550" font-family='"DejaVu Sans","Liberation Sans",sans-serif' font-stretch="condensed" font-size="9" font-weight="normal" fill="#fff" stroke="#fff" stroke-width="0.22" text-anchor="start" textLength="32.7" lengthAdjust="spacingAndGlyphs">107.014</text>
<rect x="1625" y="560" width="41" height="11" fill="#0000ff" shape-rendering="crispEdges"/>
<text x="1629.5" y="569" font-family='"DejaVu Sans","Liberation Sans",sans-serif' font-stretch="condensed" font-size="9" font-weight="normal" fill="#fff" stroke="#fff" stroke-width="0.22" text-anchor="start" textLength="32.7" lengthAdjust="spacingAndGlyphs">106.805</text>
<path d="M-2 40.2 L1.6 35.8 L5.2 40.2 Z" fill="#000"/>
<text x="10" y="41" font-family='"DejaVu Sans","Liberation Sans",sans-serif' font-stretch="condensed" font-size="9" font-weight="normal" fill="#000" stroke="#000" stroke-width="0.22" text-anchor="start" textLength="64" lengthAdjust="spacingAndGlyphs">USDJPY-,Daily</text>
<text x="80.5" y="41" font-family='"DejaVu Sans","Liberation Sans",sans-serif' font-stretch="condensed" font-size="9" font-weight="normal" fill="#000" stroke="#000" stroke-width="0.22" text-anchor="start" textLength="140.5" lengthAdjust="spacingAndGlyphs">108.823 109.308 107.251 107.320</text>
<g clip-path="url(#c2)" shape-rendering="crispEdges">
<g fill="#c0c0c0"><rect x="3" y="642" width="1" height="114"/><rect x="11" y="642" width="1" height="111"/><rect x="19" y="642" width="1" height="111"/><rect x="27" y="642" width="1" height="109"/><rect x="35" y="642" width="1" height="105"/><rect x="43" y="642" width="1" height="100"/><rect x="51" y="642" width="1" height="98"/><rect x="59" y="642" width="1" height="91"/><rect x="67" y="642" width="1" height="82"/><rect x="75" y="642" width="1" height="73"/><rect x="83" y="642" width="1" height="60"/><rect x="91" y="642" width="1" height="50"/><rect x="99" y="642" width="1" height="42"/><rect x="107" y="642" width="1" height="37"/><rect x="115" y="642" width="1" height="32"/><rect x="123" y="642" width="1" height="27"/><rect x="131" y="642" width="1" height="22"/><rect x="139" y="642" width="1" height="20"/><rect x="147" y="642" width="1" height="20"/><rect x="155" y="642" width="1" height="17"/><rect x="163" y="642" width="1" height="19"/><rect x="171" y="642" width="1" height="21"/><rect x="179" y="642" width="1" height="17"/><rect x="187" y="642" width="1" height="15"/><rect x="195" y="642" width="1" height="8"/><rect x="203" y="642" width="1" height="4"/><rect x="211" y="642" width="1" height="1"/><rect x="219" y="641" width="1" height="2"/><rect x="227" y="640" width="1" height="3"/><rect x="235" y="639" width="1" height="4"/><rect x="243" y="633" width="1" height="10"/><rect x="251" y="628" width="1" height="15"/><rect x="259" y="621" width="1" height="22"/><rect x="267" y="618" width="1" height="25"/><rect x="275" y="617" width="1" height="26"/><rect x="283" y="616" width="1" height="27"/><rect x="291" y="615" width="1" height="28"/><rect x="299" y="615" width="1" height="28"/><rect x="307" y="614" width="1" height="29"/><rect x="315" y="614" width="1" height="29"/><rect x="323" y="614" width="1" height="29"/><rect x="331" y="614" width="1" height="29"/><rect x="339" y="612" width="1" height="31"/><rect x="347" y="615" width="1" height="28"/><rect x="355" y="615" width="1" height="28"/><rect x="363" y="611" width="1" height="32"/><rect x="371" y="604" width="1" height="39"/><rect x="379" y="599" width="1" height="44"/><rect x="387" y="596" width="1" height="47"/><rect x="395" y="595" width="1" height="48"/><rect x="403" y="596" width="1" height="47"/><rect x="411" y="597" width="1" height="46"/><rect x="419" y="603" width="1" height="40"/><rect x="427" y="608" width="1" height="35"/><rect x="435" y="610" width="1" height="33"/><rect x="443" y="613" width="1" height="30"/><rect x="451" y="616" width="1" height="27"/><rect x="459" y="614" width="1" height="29"/><rect x="467" y="615" width="1" height="28"/><rect x="475" y="616" width="1" height="27"/><rect x="483" y="618" width="1" height="25"/><rect x="491" y="620" width="1" height="23"/><rect x="499" y="628" width="1" height="15"/><rect x="507" y="633" width="1" height="10"/><rect x="515" y="642" width="1" height="1"/><rect x="523" y="642" width="1" height="7"/><rect x="531" y="642" width="1" height="13"/><rect x="539" y="642" width="1" height="14"/><rect x="547" y="642" width="1" height="15"/><rect x="555" y="642" width="1" height="14"/><rect x="563" y="642" width="1" height="12"/><rect x="571" y="642" width="1" height="9"/><rect x="579" y="642" width="1" height="3"/><rect x="587" y="642" width="1" height="1"/><rect x="595" y="638" width="1" height="5"/><rect x="603" y="634" width="1" height="9"/><rect x="611" y="630" width="1" height="13"/><rect x="619" y="626" width="1" height="17"/><rect x="627" y="626" width="1" height="17"/><rect x="635" y="629" width="1" height="14"/><rect x="643" y="632" width="1" height="11"/><rect x="651" y="630" width="1" height="13"/><rect x="659" y="625" width="1" height="18"/><rect x="667" y="621" width="1" height="22"/><rect x="675" y="619" width="1" height="24"/><rect x="683" y="618" width="1" height="25"/><rect x="691" y="617" width="1" height="26"/><rect x="699" y="616" width="1" height="27"/><rect x="707" y="617" width="1" height="26"/><rect x="715" y="618" width="1" height="25"/><rect x="723" y="619" width="1" height="24"/><rect x="731" y="618" width="1" height="25"/><rect x="739" y="623" width="1" height="20"/><rect x="747" y="626" width="1" height="17"/><rect x="755" y="628" width="1" height="15"/><rect x="763" y="630" width="1" height="13"/><rect x="771" y="634" width="1" height="9"/><rect x="779" y="636" width="1" height="7"/><rect x="787" y="638" width="1" height="5"/><rect x="795" y="642" width="1" height="1"/><rect x="803" y="642" width="1" height="7"/><rect x="811" y="642" width="1" height="11"/><rect x="819" y="642" width="1" height="18"/><rect x="827" y="642" width="1" height="26"/><rect x="835" y="642" width="1" height="33"/><rect x="843" y="642" width="1" height="38"/><rect x="851" y="642" width="1" height="43"/><rect x="859" y="642" width="1" height="50"/><rect x="867" y="642" width="1" height="52"/><rect x="875" y="642" width="1" height="54"/><rect x="883" y="642" width="1" height="51"/><rect x="891" y="642" width="1" height="47"/><rect x="899" y="642" width="1" height="43"/><rect x="907" y="642" width="1" height="39"/><rect x="915" y="642" width="1" height="33"/><rect x="923" y="642" width="1" height="30"/><rect x="931" y="642" width="1" height="33"/><rect x="939" y="642" width="1" height="36"/><rect x="947" y="642" width="1" height="38"/><rect x="955" y="642" width="1" height="38"/><rect x="963" y="642" width="1" height="39"/><rect x="971" y="642" width="1" height="37"/><rect x="979" y="642" width="1" height="38"/><rect x="987" y="642" width="1" height="45"/><rect x="995" y="642" width="1" height="51"/><rect x="1003" y="642" width="1" height="57"/><rect x="1011" y="642" width="1" height="59"/><rect x="1019" y="642" width="1" height="60"/><rect x="1027" y="642" width="1" height="59"/><rect x="1035" y="642" width="1" height="59"/><rect x="1043" y="642" width="1" height="57"/><rect x="1051" y="642" width="1" height="55"/><rect x="1059" y="642" width="1" height="52"/><rect x="1067" y="642" width="1" height="49"/><rect x="1075" y="642" width="1" height="48"/><rect x="1083" y="642" width="1" height="44"/><rect x="1091" y="642" width="1" height="40"/><rect x="1099" y="642" width="1" height="37"/><rect x="1107" y="642" width="1" height="34"/><rect x="1115" y="642" width="1" height="35"/><rect x="1123" y="642" width="1" height="42"/><rect x="1131" y="642" width="1" height="46"/><rect x="1139" y="642" width="1" height="49"/><rect x="1147" y="642" width="1" height="51"/><rect x="1155" y="642" width="1" height="53"/><rect x="1163" y="642" width="1" height="50"/><rect x="1171" y="642" width="1" height="47"/><rect x="1179" y="642" width="1" height="43"/><rect x="1187" y="642" width="1" height="35"/><rect x="1195" y="642" width="1" height="29"/><rect x="1203" y="642" width="1" height="28"/><rect x="1211" y="642" width="1" height="27"/><rect x="1219" y="642" width="1" height="26"/><rect x="1227" y="642" width="1" height="19"/><rect x="1235" y="642" width="1" height="13"/><rect x="1243" y="642" width="1" height="7"/><rect x="1251" y="642" width="1" height="1"/><rect x="1267" y="641" width="1" height="2"/><rect x="1275" y="642" width="1" height="2"/><rect x="1283" y="642" width="1" height="6"/><rect x="1291" y="642" width="1" height="7"/><rect x="1299" y="642" width="1" height="7"/><rect x="1307" y="642" width="1" height="8"/><rect x="1315" y="642" width="1" height="13"/><rect x="1323" y="642" width="1" height="14"/><rect x="1331" y="642" width="1" height="14"/><rect x="1339" y="642" width="1" height="14"/><rect x="1347" y="642" width="1" height="10"/><rect x="1355" y="642" width="1" height="8"/><rect x="1363" y="642" width="1" height="2"/><rect x="1371" y="640" width="1" height="3"/><rect x="1379" y="637" width="1" height="6"/><rect x="1387" y="633" width="1" height="10"/><rect x="1395" y="632" width="1" height="11"/><rect x="1403" y="630" width="1" height="13"/><rect x="1411" y="640" width="1" height="3"/></g>
<path d="M427 600h3v1h-3zM433 600h3v1h-3zM439 600h1v1h-1zM416 601h2v1h-2zM421 601h3v1h-3zM440 601h2v1h-2zM445 601h1v1h-1zM410 602h2v1h-2zM415 602h1v1h-1zM446 602h2v1h-2zM409 603h1v1h-1zM451 603h3v1h-3zM403 604h3v1h-3zM457 604h1v1h-1zM398 605h2v1h-2zM458 605h2v1h-2zM397 606h1v1h-1zM463 606h3v1h-3zM391 607h3v1h-3zM469 607h1v1h-1zM386 608h2v1h-2zM470 608h2v1h-2zM385 609h1v1h-1zM475 609h2v1h-2zM379 610h3v1h-3zM477 610h1v1h-1zM373 611h3v1h-3zM481 611h1v1h-1zM367 612h3v1h-3zM482 612h2v1h-2zM344 613h2v1h-2zM349 613h3v1h-3zM355 613h3v1h-3zM361 613h3v1h-3zM487 613h3v1h-3zM331 614h3v1h-3zM337 614h3v1h-3zM343 614h1v1h-1zM493 614h1v1h-1zM325 615h3v1h-3zM494 615h2v1h-2zM319 616h3v1h-3zM499 616h3v1h-3zM314 617h2v1h-2zM505 617h1v1h-1zM728 617h2v1h-2zM733 617h3v1h-3zM739 617h3v1h-3zM313 618h1v1h-1zM506 618h2v1h-2zM721 618h3v1h-3zM727 618h1v1h-1zM745 618h3v1h-3zM751 618h1v1h-1zM307 619h3v1h-3zM715 619h3v1h-3zM752 619h2v1h-2zM757 619h1v1h-1zM302 620h2v1h-2zM511 620h2v1h-2zM710 620h2v1h-2zM758 620h2v1h-2zM301 621h1v1h-1zM513 621h1v1h-1zM704 621h2v1h-2zM709 621h1v1h-1zM763 621h3v1h-3zM296 622h2v1h-2zM697 622h3v1h-3zM703 622h1v1h-1zM769 622h1v1h-1zM295 623h1v1h-1zM517 623h3v1h-3zM691 623h3v1h-3zM770 623h2v1h-2zM290 624h2v1h-2zM685 624h3v1h-3zM775 624h3v1h-3zM289 625h1v1h-1zM523 625h1v1h-1zM679 625h3v1h-3zM781 625h1v1h-1zM285 626h1v1h-1zM524 626h2v1h-2zM673 626h3v1h-3zM782 626h2v1h-2zM283 627h2v1h-2zM667 627h3v1h-3zM787 627h2v1h-2zM662 628h2v1h-2zM789 628h1v1h-1zM277 629h3v1h-3zM529 629h2v1h-2zM661 629h1v1h-1zM793 629h1v1h-1zM531 630h1v1h-1zM655 630h3v1h-3zM794 630h2v1h-2zM272 631h2v1h-2zM650 631h2v1h-2zM799 631h1v1h-1zM271 632h1v1h-1zM535 632h1v1h-1zM649 632h1v1h-1zM800 632h2v1h-2zM267 633h1v1h-1zM536 633h1v1h-1zM643 633h3v1h-3zM265 634h2v1h-2zM537 634h1v1h-1zM638 634h2v1h-2zM805 634h2v1h-2zM637 635h1v1h-1zM807 635h1v1h-1zM261 636h1v1h-1zM541 636h2v1h-2zM632 636h2v1h-2zM259 637h2v1h-2zM543 637h1v1h-1zM631 637h1v1h-1zM811 637h2v1h-2zM626 638h2v1h-2zM813 638h1v1h-1zM255 639h1v1h-1zM547 639h2v1h-2zM625 639h1v1h-1zM817 639h1v1h-1zM1411 639h1v1h-1zM253 640h2v1h-2zM549 640h1v1h-1zM621 640h1v1h-1zM818 640h2v1h-2zM1406 640h2v1h-2zM619 641h2v1h-2zM1405 641h1v1h-1zM249 642h1v1h-1zM553 642h2v1h-2zM823 642h1v1h-1zM1400 642h2v1h-2zM247 643h2v1h-2zM555 643h1v1h-1zM615 643h1v1h-1zM824 643h1v1h-1zM1399 643h1v1h-1zM613 644h2v1h-2zM825 644h1v1h-1zM1394 644h2v1h-2zM242 645h2v1h-2zM559 645h2v1h-2zM1393 645h1v1h-1zM241 646h1v1h-1zM561 646h1v1h-1zM608 646h2v1h-2zM829 646h1v1h-1zM1304 646h2v1h-2zM1309 646h3v1h-3zM1389 646h1v1h-1zM237 647h1v1h-1zM607 647h1v1h-1zM830 647h2v1h-2zM1297 647h3v1h-3zM1303 647h1v1h-1zM1315 647h3v1h-3zM1387 647h2v1h-2zM235 648h2v1h-2zM565 648h3v1h-3zM602 648h2v1h-2zM1291 648h3v1h-3zM1321 648h3v1h-3zM1382 648h2v1h-2zM601 649h1v1h-1zM1286 649h2v1h-2zM1327 649h3v1h-3zM1381 649h1v1h-1zM229 650h3v1h-3zM571 650h3v1h-3zM595 650h3v1h-3zM835 650h1v1h-1zM1285 650h1v1h-1zM1333 650h3v1h-3zM1375 650h3v1h-3zM577 651h1v1h-1zM584 651h2v1h-2zM589 651h3v1h-3zM836 651h2v1h-2zM1279 651h3v1h-3zM1339 651h3v1h-3zM1369 651h3v1h-3zM223 652h3v1h-3zM578 652h2v1h-2zM583 652h1v1h-1zM1274 652h2v1h-2zM1345 652h3v1h-3zM1351 652h3v1h-3zM1357 652h3v1h-3zM1363 652h3v1h-3zM218 653h2v1h-2zM1273 653h1v1h-1zM217 654h1v1h-1zM841 654h2v1h-2zM1269 654h1v1h-1zM211 655h3v1h-3zM843 655h1v1h-1zM1267 655h2v1h-2zM205 657h3v1h-3zM1263 657h1v1h-1zM847 658h1v1h-1zM1261 658h2v1h-2zM199 659h3v1h-3zM848 659h2v1h-2zM194 660h2v1h-2zM1256 660h2v1h-2zM193 661h1v1h-1zM1255 661h1v1h-1zM187 662h3v1h-3zM853 662h1v1h-1zM1251 662h1v1h-1zM182 663h2v1h-2zM854 663h1v1h-1zM1249 663h2v1h-2zM181 664h1v1h-1zM855 664h1v1h-1zM175 665h3v1h-3zM170 666h2v1h-2zM1244 666h2v1h-2zM169 667h1v1h-1zM859 667h1v1h-1zM1243 667h1v1h-1zM163 668h3v1h-3zM860 668h2v1h-2zM159 670h1v1h-1zM1238 670h2v1h-2zM157 671h2v1h-2zM865 671h1v1h-1zM1237 671h1v1h-1zM866 672h1v1h-1zM153 673h1v1h-1zM867 673h1v1h-1zM1233 673h1v1h-1zM151 674h2v1h-2zM1231 674h2v1h-2zM871 675h1v1h-1zM147 676h1v1h-1zM872 676h1v1h-1zM1227 676h1v1h-1zM146 677h1v1h-1zM873 677h1v1h-1zM1225 677h2v1h-2zM145 678h1v1h-1zM961 678h3v1h-3zM967 678h3v1h-3zM973 678h3v1h-3zM979 678h3v1h-3zM877 679h1v1h-1zM955 679h3v1h-3zM985 679h3v1h-3zM1221 679h1v1h-1zM878 680h2v1h-2zM950 680h2v1h-2zM991 680h3v1h-3zM1219 680h2v1h-2zM140 681h2v1h-2zM949 681h1v1h-1zM1214 681h2v1h-2zM139 682h1v1h-1zM943 682h3v1h-3zM997 682h3v1h-3zM1213 682h1v1h-1zM883 683h2v1h-2zM937 683h3v1h-3zM1208 683h2v1h-2zM885 684h1v1h-1zM931 684h3v1h-3zM1003 684h2v1h-2zM1123 684h3v1h-3zM1129 684h3v1h-3zM1135 684h3v1h-3zM1141 684h3v1h-3zM1147 684h3v1h-3zM1207 684h1v1h-1zM889 685h1v1h-1zM926 685h2v1h-2zM1005 685h1v1h-1zM1118 685h2v1h-2zM1153 685h3v1h-3zM1159 685h1v1h-1zM1202 685h2v1h-2zM134 686h2v1h-2zM890 686h2v1h-2zM925 686h1v1h-1zM1009 686h1v1h-1zM1117 686h1v1h-1zM1160 686h2v1h-2zM1165 686h3v1h-3zM1201 686h1v1h-1zM133 687h1v1h-1zM895 687h3v1h-3zM919 687h3v1h-3zM1010 687h2v1h-2zM1111 687h3v1h-3zM1171 687h3v1h-3zM1195 687h3v1h-3zM901 688h3v1h-3zM907 688h3v1h-3zM913 688h3v1h-3zM1015 688h3v1h-3zM1106 688h2v1h-2zM1177 688h3v1h-3zM1183 688h3v1h-3zM1189 688h3v1h-3zM1021 689h1v1h-1zM1105 689h1v1h-1zM1022 690h2v1h-2zM1101 690h1v1h-1zM129 691h1v1h-1zM1027 691h2v1h-2zM1099 691h2v1h-2zM128 692h1v1h-1zM1029 692h1v1h-1zM1094 692h2v1h-2zM127 693h1v1h-1zM1033 693h1v1h-1zM1093 693h1v1h-1zM1034 694h2v1h-2zM1088 694h2v1h-2zM1039 695h3v1h-3zM1087 695h1v1h-1zM1045 696h1v1h-1zM1081 696h3v1h-3zM123 697h1v1h-1zM1046 697h2v1h-2zM1075 697h3v1h-3zM122 698h1v1h-1zM1051 698h3v1h-3zM1064 698h2v1h-2zM1069 698h3v1h-3zM121 699h1v1h-1zM1057 699h3v1h-3zM1063 699h1v1h-1zM117 703h1v1h-1zM116 704h1v1h-1zM115 705h1v1h-1zM110 709h2v1h-2zM109 710h1v1h-1zM105 714h1v1h-1zM104 715h1v1h-1zM103 716h1v1h-1zM99 720h1v1h-1zM98 721h1v1h-1zM97 722h1v1h-1zM93 725h1v1h-1zM92 726h1v1h-1zM91 727h1v1h-1zM86 731h2v1h-2zM85 732h1v1h-1zM80 736h2v1h-2zM1 737h2v1h-2zM79 737h1v1h-1zM3 738h1v1h-1zM7 740h1v1h-1zM75 740h1v1h-1zM8 741h1v1h-1zM73 741h2v1h-2zM9 742h1v1h-1zM69 743h1v1h-1zM13 744h2v1h-2zM67 744h2v1h-2zM15 745h1v1h-1zM63 746h1v1h-1zM19 747h2v1h-2zM61 747h2v1h-2zM21 748h1v1h-1zM56 749h2v1h-2zM25 750h2v1h-2zM55 750h1v1h-1zM27 751h1v1h-1zM50 751h2v1h-2zM31 752h3v1h-3zM49 752h1v1h-1zM37 753h3v1h-3zM43 753h3v1h-3z" fill="#ff0000"/>
</g>
<text x="0" y="597.4" font-family='"DejaVu Sans","Liberation Sans",sans-serif' font-stretch="condensed" font-size="9" font-weight="normal" fill="#000" stroke="#000" stroke-width="0.22" text-anchor="start" textLength="126" lengthAdjust="spacingAndGlyphs">MACD(12,26,9) 0.0349 0.0301</text>
<text x="1626.6" y="595" font-family='"DejaVu Sans","Liberation Sans",sans-serif' font-stretch="condensed" font-size="9" font-weight="normal" fill="#000" stroke="#000" stroke-width="0.22" text-anchor="start" textLength="28" lengthAdjust="spacingAndGlyphs">0.5724</text>
<text x="1626.6" y="646" font-family='"DejaVu Sans","Liberation Sans",sans-serif' font-stretch="condensed" font-size="9" font-weight="normal" fill="#000" stroke="#000" stroke-width="0.22" text-anchor="start" textLength="18" lengthAdjust="spacingAndGlyphs">0.00</text>
<text x="1626.8" y="763.8" font-family='"DejaVu Sans","Liberation Sans",sans-serif' font-stretch="condensed" font-size="9" font-weight="normal" fill="#000" stroke="#000" stroke-width="0.22" text-anchor="start" textLength="30.6" lengthAdjust="spacingAndGlyphs">-1.2551</text>
<g fill="#000" shape-rendering="crispEdges"><rect x="1624" y="586" width="1" height="1"/><rect x="1624" y="642" width="2" height="1"/><rect x="1624" y="766" width="1" height="1"/></g>
<g clip-path="url(#c3)" shape-rendering="crispEdges">
<line x1="2" y1="802.5" x2="1623" y2="802.5" stroke="#c0c0c0" stroke-width="1" stroke-dasharray="3 3"/>
<line x1="2" y1="849.5" x2="1623" y2="849.5" stroke="#c0c0c0" stroke-width="1" stroke-dasharray="3 3"/>
<line x1="2" y1="905.5" x2="1623" y2="905.5" stroke="#c0c0c0" stroke-width="1" stroke-dasharray="3 3"/>
<path d="M371 815h3v1h-3zM370 816h1v1h-1zM374 816h4v1h-4zM369 817h1v1h-1zM378 817h2v1h-2zM368 818h1v1h-1zM380 818h2v1h-2zM367 819h1v2h-1zM382 819h2v1h-2zM384 820h1v1h-1zM394 820h2v1h-2zM366 821h1v1h-1zM385 821h2v1h-2zM390 821h4v1h-4zM396 821h1v1h-1zM259 822h1v1h-1zM365 822h1v1h-1zM387 822h3v1h-3zM397 822h1v1h-1zM258 823h1v1h-1zM260 823h1v2h-1zM339 823h1v2h-1zM364 823h1v1h-1zM398 823h1v1h-1zM257 824h1v1h-1zM338 824h1v1h-1zM363 824h1v1h-1zM399 824h1v1h-1zM256 825h1v1h-1zM261 825h1v1h-1zM337 825h1v1h-1zM340 825h1v2h-1zM362 825h1v1h-1zM400 825h1v1h-1zM254 826h2v1h-2zM262 826h1v2h-1zM336 826h1v1h-1zM361 826h1v2h-1zM401 826h1v1h-1zM253 827h1v1h-1zM334 827h2v1h-2zM341 827h1v2h-1zM402 827h1v1h-1zM252 828h1v1h-1zM263 828h1v1h-1zM333 828h1v1h-1zM360 828h1v1h-1zM403 828h9v1h-9zM659 828h5v1h-5zM250 829h2v1h-2zM264 829h1v2h-1zM332 829h1v1h-1zM342 829h1v2h-1zM359 829h1v1h-1zM411 829h1v1h-1zM658 829h1v1h-1zM664 829h5v1h-5zM731 829h1v2h-1zM248 830h2v1h-2zM306 830h6v1h-6zM330 830h2v1h-2zM358 830h1v1h-1zM412 830h1v2h-1zM459 830h1v1h-1zM616 830h4v1h-4zM657 830h1v1h-1zM669 830h3v1h-3zM688 830h5v1h-5zM730 830h1v1h-1zM245 831h3v1h-3zM265 831h1v1h-1zM304 831h2v1h-2zM312 831h8v1h-8zM326 831h4v1h-4zM343 831h1v3h-1zM357 831h1v2h-1zM458 831h1v2h-1zM460 831h1v1h-1zM603 831h13v1h-13zM620 831h1v1h-1zM656 831h1v1h-1zM672 831h2v1h-2zM680 831h8v1h-8zM693 831h3v1h-3zM729 831h1v1h-1zM732 831h1v2h-1zM243 832h2v1h-2zM266 832h1v2h-1zM301 832h3v1h-3zM320 832h6v1h-6zM413 832h1v2h-1zM461 832h1v1h-1zM602 832h1v1h-1zM621 832h1v1h-1zM655 832h1v1h-1zM674 832h6v1h-6zM696 832h2v1h-2zM728 832h1v1h-1zM242 833h1v2h-1zM288 833h13v1h-13zM356 833h1v1h-1zM457 833h1v2h-1zM462 833h1v1h-1zM600 833h2v1h-2zM622 833h1v1h-1zM654 833h1v1h-1zM698 833h4v1h-4zM726 833h2v1h-2zM733 833h1v3h-1zM1251 833h1v1h-1zM267 834h3v1h-3zM282 834h6v1h-6zM344 834h1v2h-1zM355 834h1v1h-1zM414 834h1v2h-1zM463 834h1v1h-1zM599 834h1v1h-1zM623 834h1v2h-1zM653 834h1v1h-1zM702 834h4v1h-4zM712 834h6v1h-6zM725 834h1v1h-1zM1249 834h2v1h-2zM1252 834h1v2h-1zM1387 834h1v1h-1zM241 835h1v1h-1zM270 835h4v1h-4zM278 835h4v1h-4zM354 835h1v1h-1zM456 835h1v1h-1zM464 835h1v1h-1zM579 835h2v1h-2zM598 835h1v1h-1zM652 835h1v1h-1zM706 835h6v1h-6zM718 835h4v1h-4zM724 835h1v1h-1zM1247 835h2v1h-2zM1385 835h2v1h-2zM1388 835h1v1h-1zM240 836h1v2h-1zM274 836h4v1h-4zM345 836h1v2h-1zM353 836h1v1h-1zM415 836h1v2h-1zM455 836h1v2h-1zM465 836h1v1h-1zM578 836h1v1h-1zM581 836h2v1h-2zM596 836h2v1h-2zM624 836h1v1h-1zM651 836h1v1h-1zM722 836h2v1h-2zM734 836h1v3h-1zM1245 836h2v1h-2zM1253 836h1v2h-1zM1368 836h6v1h-6zM1383 836h2v1h-2zM1389 836h1v1h-1zM1403 836h1v2h-1zM352 837h1v1h-1zM466 837h1v1h-1zM472 837h4v1h-4zM577 837h1v2h-1zM583 837h2v1h-2zM594 837h2v1h-2zM625 837h1v1h-1zM650 837h1v2h-1zM1243 837h2v1h-2zM1363 837h5v1h-5zM1374 837h4v1h-4zM1381 837h2v1h-2zM1390 837h1v1h-1zM1402 837h1v1h-1zM239 838h1v1h-1zM346 838h1v2h-1zM350 838h2v1h-2zM416 838h1v2h-1zM454 838h1v1h-1zM467 838h5v1h-5zM476 838h2v1h-2zM585 838h2v1h-2zM590 838h4v1h-4zM626 838h1v1h-1zM1241 838h2v1h-2zM1254 838h1v2h-1zM1362 838h1v1h-1zM1378 838h3v1h-3zM1391 838h1v1h-1zM1400 838h2v1h-2zM1404 838h1v4h-1zM195 839h5v1h-5zM208 839h4v1h-4zM238 839h1v2h-1zM349 839h1v1h-1zM435 839h10v1h-10zM453 839h1v2h-1zM478 839h2v1h-2zM576 839h1v1h-1zM587 839h3v1h-3zM627 839h1v1h-1zM649 839h1v2h-1zM735 839h1v2h-1zM1240 839h1v1h-1zM1361 839h1v2h-1zM1392 839h1v1h-1zM1399 839h1v1h-1zM194 840h1v2h-1zM200 840h8v1h-8zM212 840h2v1h-2zM347 840h2v1h-2zM417 840h1v2h-1zM434 840h1v1h-1zM445 840h2v1h-2zM480 840h1v1h-1zM575 840h1v1h-1zM628 840h1v2h-1zM1227 840h3v1h-3zM1238 840h2v1h-2zM1255 840h1v2h-1zM1393 840h1v1h-1zM1398 840h1v1h-1zM214 841h1v1h-1zM237 841h1v1h-1zM347 841h1v1h-1zM432 841h2v1h-2zM447 841h2v1h-2zM452 841h1v2h-1zM481 841h2v1h-2zM488 841h4v1h-4zM574 841h1v1h-1zM648 841h1v2h-1zM736 841h1v3h-1zM1227 841h1v1h-1zM1230 841h4v1h-4zM1236 841h2v1h-2zM1360 841h1v1h-1zM1394 841h1v1h-1zM1396 841h2v1h-2zM193 842h1v1h-1zM215 842h1v1h-1zM236 842h1v2h-1zM418 842h1v2h-1zM431 842h1v1h-1zM449 842h2v1h-2zM483 842h5v1h-5zM491 842h1v1h-1zM573 842h1v2h-1zM629 842h1v1h-1zM1226 842h1v2h-1zM1234 842h2v1h-2zM1256 842h1v2h-1zM1359 842h1v1h-1zM1395 842h1v1h-1zM1405 842h1v4h-1zM192 843h1v1h-1zM216 843h2v1h-2zM430 843h1v1h-1zM451 843h1v1h-1zM492 843h1v2h-1zM630 843h1v1h-1zM647 843h1v2h-1zM1267 843h1v2h-1zM1358 843h1v1h-1zM191 844h1v2h-1zM218 844h1v1h-1zM232 844h4v1h-4zM419 844h1v2h-1zM428 844h2v1h-2zM572 844h1v1h-1zM631 844h1v2h-1zM737 844h1v3h-1zM1225 844h1v2h-1zM1257 844h1v2h-1zM1265 844h2v1h-2zM1357 844h1v2h-1zM219 845h13v1h-13zM420 845h8v1h-8zM493 845h1v3h-1zM571 845h1v1h-1zM646 845h1v2h-1zM1264 845h1v1h-1zM1268 845h1v2h-1zM190 846h1v1h-1zM569 846h2v1h-2zM632 846h1v1h-1zM762 846h2v1h-2zM1187 846h9v1h-9zM1224 846h1v3h-1zM1258 846h1v2h-1zM1262 846h2v1h-2zM1347 846h5v1h-5zM1356 846h1v1h-1zM1406 846h1v4h-1zM83 847h3v1h-3zM189 847h1v1h-1zM567 847h2v1h-2zM633 847h1v1h-1zM645 847h1v2h-1zM738 847h1v2h-1zM758 847h4v1h-4zM764 847h1v1h-1zM915 847h1v1h-1zM1187 847h1v1h-1zM1196 847h1v2h-1zM1260 847h2v1h-2zM1269 847h1v2h-1zM1346 847h1v1h-1zM1352 847h4v1h-4zM82 848h1v2h-1zM86 848h4v1h-4zM179 848h3v1h-3zM188 848h1v2h-1zM494 848h1v2h-1zM565 848h2v1h-2zM634 848h1v2h-1zM746 848h12v1h-12zM765 848h1v1h-1zM914 848h1v2h-1zM916 848h1v1h-1zM1186 848h1v2h-1zM1259 848h1v1h-1zM1345 848h1v1h-1zM90 849h10v1h-10zM128 849h4v1h-4zM178 849h1v2h-1zM182 849h4v1h-4zM563 849h2v1h-2zM644 849h1v2h-1zM739 849h1v2h-1zM742 849h4v1h-4zM766 849h1v1h-1zM917 849h1v1h-1zM1197 849h1v2h-1zM1223 849h1v2h-1zM1270 849h1v2h-1zM1344 849h1v1h-1zM81 850h1v1h-1zM100 850h2v1h-2zM122 850h6v1h-6zM132 850h2v1h-2zM186 850h2v1h-2zM495 850h1v3h-1zM561 850h2v1h-2zM635 850h3v1h-3zM740 850h2v1h-2zM767 850h1v2h-1zM913 850h1v2h-1zM918 850h1v1h-1zM1185 850h1v2h-1zM1299 850h1v1h-1zM1342 850h2v1h-2zM1407 850h1v3h-1zM80 851h1v1h-1zM102 851h2v1h-2zM118 851h4v1h-4zM134 851h2v1h-2zM177 851h1v2h-1zM560 851h1v1h-1zM638 851h4v1h-4zM643 851h1v2h-1zM786 851h2v1h-2zM919 851h1v2h-1zM1198 851h1v1h-1zM1222 851h1v3h-1zM1271 851h1v2h-1zM1298 851h1v1h-1zM1300 851h2v1h-2zM1341 851h1v1h-1zM79 852h1v2h-1zM104 852h1v1h-1zM114 852h4v1h-4zM136 852h1v1h-1zM558 852h2v1h-2zM642 852h1v1h-1zM768 852h1v1h-1zM782 852h4v1h-4zM788 852h1v2h-1zM912 852h1v1h-1zM1184 852h1v2h-1zM1199 852h1v2h-1zM1296 852h2v1h-2zM1302 852h2v1h-2zM1340 852h1v1h-1zM105 853h2v1h-2zM110 853h4v1h-4zM137 853h2v1h-2zM155 853h1v1h-1zM176 853h1v2h-1zM496 853h1v2h-1zM556 853h2v1h-2zM769 853h1v1h-1zM778 853h4v1h-4zM911 853h1v2h-1zM920 853h1v1h-1zM1272 853h1v2h-1zM1295 853h1v1h-1zM1304 853h1v1h-1zM1338 853h2v1h-2zM1408 853h1v4h-1zM78 854h1v1h-1zM107 854h3v1h-3zM139 854h2v1h-2zM153 854h2v1h-2zM156 854h1v1h-1zM555 854h1v1h-1zM770 854h1v1h-1zM774 854h4v1h-4zM789 854h1v2h-1zM921 854h1v1h-1zM1183 854h1v2h-1zM1200 854h1v1h-1zM1221 854h1v2h-1zM1294 854h1v1h-1zM1305 854h2v1h-2zM1334 854h4v1h-4zM77 855h1v1h-1zM141 855h3v1h-3zM151 855h2v1h-2zM157 855h1v1h-1zM175 855h1v2h-1zM497 855h1v3h-1zM553 855h2v1h-2zM771 855h3v1h-3zM910 855h1v1h-1zM922 855h1v1h-1zM1201 855h1v2h-1zM1273 855h1v2h-1zM1292 855h2v1h-2zM1307 855h1v1h-1zM1328 855h6v1h-6zM76 856h1v2h-1zM144 856h2v1h-2zM149 856h2v1h-2zM158 856h1v1h-1zM507 856h1v1h-1zM539 856h3v1h-3zM551 856h2v1h-2zM790 856h1v1h-1zM909 856h1v2h-1zM923 856h1v1h-1zM1182 856h1v2h-1zM1220 856h1v2h-1zM1290 856h2v1h-2zM1308 856h1v1h-1zM1323 856h5v1h-5zM146 857h3v1h-3zM159 857h1v1h-1zM174 857h1v2h-1zM505 857h2v1h-2zM508 857h1v2h-1zM538 857h1v2h-1zM542 857h4v1h-4zM549 857h2v1h-2zM791 857h1v2h-1zM924 857h1v2h-1zM1202 857h1v2h-1zM1274 857h1v2h-1zM1286 857h4v1h-4zM1309 857h1v2h-1zM1322 857h1v1h-1zM1409 857h1v4h-1zM74 858h2v1h-2zM160 858h1v1h-1zM498 858h1v2h-1zM504 858h1v1h-1zM546 858h3v1h-3zM896 858h6v1h-6zM908 858h1v2h-1zM1181 858h1v2h-1zM1219 858h1v2h-1zM1280 858h6v1h-6zM1321 858h1v1h-1zM70 859h4v1h-4zM161 859h1v1h-1zM173 859h1v2h-1zM502 859h2v1h-2zM509 859h1v2h-1zM537 859h1v2h-1zM792 859h1v1h-1zM891 859h5v1h-5zM902 859h4v1h-4zM925 859h1v1h-1zM1203 859h5v1h-5zM1216 859h3v1h-3zM1275 859h5v1h-5zM1310 859h1v1h-1zM1320 859h1v1h-1zM67 860h3v1h-3zM162 860h1v1h-1zM499 860h3v1h-3zM793 860h1v2h-1zM890 860h1v1h-1zM906 860h2v1h-2zM926 860h1v1h-1zM1106 860h2v1h-2zM1180 860h1v2h-1zM1208 860h8v1h-8zM1311 860h1v1h-1zM1319 860h1v2h-1zM66 861h1v1h-1zM163 861h2v1h-2zM172 861h1v2h-1zM499 861h1v1h-1zM510 861h1v2h-1zM536 861h1v2h-1zM889 861h1v1h-1zM927 861h1v2h-1zM1083 861h13v1h-13zM1102 861h4v1h-4zM1108 861h1v2h-1zM1312 861h1v1h-1zM1410 861h1v4h-1zM65 862h1v1h-1zM165 862h3v1h-3zM794 862h1v2h-1zM888 862h1v1h-1zM971 862h1v1h-1zM1082 862h1v1h-1zM1096 862h6v1h-6zM1179 862h1v2h-1zM1313 862h1v2h-1zM1318 862h1v1h-1zM64 863h1v1h-1zM168 863h2v1h-2zM171 863h1v2h-1zM511 863h1v1h-1zM535 863h1v1h-1zM886 863h2v1h-2zM928 863h1v1h-1zM970 863h1v1h-1zM972 863h2v1h-2zM1081 863h1v1h-1zM1109 863h1v1h-1zM1176 863h3v1h-3zM1317 863h1v1h-1zM62 864h2v1h-2zM170 864h1v1h-1zM512 864h1v2h-1zM534 864h1v2h-1zM795 864h1v1h-1zM885 864h1v1h-1zM929 864h1v1h-1zM969 864h1v1h-1zM974 864h2v1h-2zM1080 864h1v1h-1zM1110 864h1v2h-1zM1163 864h13v1h-13zM1314 864h1v1h-1zM1316 864h1v1h-1zM61 865h1v1h-1zM796 865h1v2h-1zM884 865h1v1h-1zM930 865h1v2h-1zM968 865h1v1h-1zM976 865h1v1h-1zM1079 865h1v1h-1zM1163 865h1v1h-1zM1315 865h1v1h-1zM1411 865h1v2h-1zM60 866h1v1h-1zM513 866h1v2h-1zM533 866h1v2h-1zM883 866h1v1h-1zM954 866h3v1h-3zM966 866h2v1h-2zM977 866h2v1h-2zM1059 866h10v1h-10zM1078 866h1v1h-1zM1111 866h1v1h-1zM1162 866h1v2h-1zM59 867h1v1h-1zM797 867h1v1h-1zM882 867h1v2h-1zM931 867h2v1h-2zM952 867h2v1h-2zM957 867h3v1h-3zM965 867h1v1h-1zM979 867h1v1h-1zM1057 867h2v1h-2zM1069 867h3v1h-3zM1077 867h1v1h-1zM1112 867h1v2h-1zM58 868h1v1h-1zM514 868h1v2h-1zM532 868h1v2h-1zM798 868h1v1h-1zM811 868h1v1h-1zM933 868h2v1h-2zM949 868h3v1h-3zM960 868h2v1h-2zM964 868h1v1h-1zM980 868h1v2h-1zM1043 868h3v1h-3zM1055 868h2v1h-2zM1072 868h2v1h-2zM1076 868h1v1h-1zM1161 868h1v3h-1zM57 869h1v1h-1zM799 869h1v2h-1zM810 869h1v1h-1zM812 869h1v1h-1zM881 869h1v1h-1zM935 869h2v1h-2zM946 869h3v1h-3zM962 869h2v1h-2zM1042 869h1v1h-1zM1046 869h4v1h-4zM1053 869h2v1h-2zM1074 869h2v1h-2zM1113 869h1v1h-1zM56 870h1v1h-1zM515 870h17v1h-17zM809 870h1v1h-1zM813 870h1v2h-1zM880 870h1v2h-1zM937 870h2v1h-2zM942 870h4v1h-4zM981 870h1v2h-1zM1041 870h1v1h-1zM1050 870h3v1h-3zM1114 870h1v2h-1zM55 871h1v2h-1zM800 871h1v1h-1zM808 871h1v1h-1zM939 871h3v1h-3zM1040 871h1v1h-1zM1160 871h1v2h-1zM801 872h1v1h-1zM806 872h2v1h-2zM814 872h1v1h-1zM879 872h1v1h-1zM982 872h1v2h-1zM1027 872h1v1h-1zM1039 872h1v2h-1zM1115 872h1v1h-1zM35 873h10v1h-10zM54 873h1v1h-1zM802 873h1v2h-1zM805 873h1v1h-1zM815 873h1v1h-1zM878 873h1v2h-1zM1025 873h2v1h-2zM1028 873h2v1h-2zM1116 873h1v2h-1zM1159 873h1v3h-1zM10 874h2v1h-2zM33 874h2v1h-2zM45 874h3v1h-3zM53 874h1v1h-1zM804 874h1v1h-1zM816 874h1v1h-1zM983 874h1v1h-1zM1023 874h2v1h-2zM1030 874h2v1h-2zM1038 874h1v1h-1zM6 875h4v1h-4zM12 875h2v1h-2zM31 875h2v1h-2zM48 875h2v1h-2zM52 875h1v1h-1zM803 875h1v1h-1zM817 875h1v2h-1zM867 875h2v1h-2zM877 875h1v1h-1zM984 875h1v2h-1zM1021 875h2v1h-2zM1032 875h1v1h-1zM1037 875h1v1h-1zM1117 875h1v2h-1zM2 876h4v1h-4zM14 876h2v1h-2zM29 876h2v1h-2zM50 876h2v1h-2zM867 876h1v1h-1zM869 876h3v1h-3zM876 876h1v2h-1zM1018 876h3v1h-3zM1033 876h2v1h-2zM1036 876h1v1h-1zM1158 876h1v2h-1zM0 877h2v1h-2zM16 877h1v1h-1zM26 877h3v1h-3zM818 877h1v1h-1zM866 877h1v2h-1zM872 877h2v1h-2zM985 877h1v2h-1zM1014 877h4v1h-4zM1035 877h1v1h-1zM1118 877h1v1h-1zM17 878h2v1h-2zM22 878h4v1h-4zM819 878h2v1h-2zM874 878h2v1h-2zM1011 878h3v1h-3zM1119 878h1v2h-1zM1157 878h1v3h-1zM19 879h3v1h-3zM821 879h2v1h-2zM865 879h1v2h-1zM986 879h1v2h-1zM1010 879h1v1h-1zM823 880h2v1h-2zM1009 880h1v1h-1zM1120 880h1v1h-1zM825 881h2v1h-2zM864 881h1v2h-1zM987 881h3v1h-3zM1008 881h1v1h-1zM1121 881h1v2h-1zM1131 881h3v1h-3zM1156 881h1v2h-1zM827 882h2v1h-2zM842 882h3v1h-3zM990 882h4v1h-4zM1006 882h2v1h-2zM1129 882h2v1h-2zM1134 882h4v1h-4zM1144 882h6v1h-6zM829 883h3v1h-3zM840 883h2v1h-2zM845 883h2v1h-2zM863 883h1v2h-1zM994 883h4v1h-4zM1005 883h1v1h-1zM1122 883h1v2h-1zM1127 883h2v1h-2zM1138 883h6v1h-6zM1150 883h4v1h-4zM1155 883h1v2h-1zM832 884h2v1h-2zM837 884h3v1h-3zM847 884h2v1h-2zM998 884h4v1h-4zM1004 884h1v1h-1zM1125 884h2v1h-2zM1154 884h1v1h-1zM834 885h3v1h-3zM849 885h2v1h-2zM862 885h1v2h-1zM1002 885h2v1h-2zM1123 885h2v1h-2zM851 886h1v1h-1zM852 887h2v1h-2zM861 887h1v2h-1zM854 888h1v1h-1zM855 889h1v1h-1zM860 889h1v2h-1zM856 890h2v1h-2zM858 891h2v1h-2zM859 892h1v1h-1z" fill="#1e90ff"/>
</g>
<text x="0" y="782" font-family='"DejaVu Sans","Liberation Sans",sans-serif' font-stretch="condensed" font-size="9" font-weight="normal" fill="#000" stroke="#000" stroke-width="0.22" text-anchor="start" textLength="67" lengthAdjust="spacingAndGlyphs">RSI(14) 39.1785</text>
<text x="1626.5" y="779.6" font-family='"DejaVu Sans","Liberation Sans",sans-serif' font-stretch="condensed" font-size="9" font-weight="normal" fill="#000" stroke="#000" stroke-width="0.22" text-anchor="start" textLength="15" lengthAdjust="spacingAndGlyphs">100</text>
<text x="1626.5" y="805.6" font-family='"DejaVu Sans","Liberation Sans",sans-serif' font-stretch="condensed" font-size="9" font-weight="normal" fill="#000" stroke="#000" stroke-width="0.22" text-anchor="start" textLength="9.8" lengthAdjust="spacingAndGlyphs">80</text>
<text x="1626.5" y="852.6" font-family='"DejaVu Sans","Liberation Sans",sans-serif' font-stretch="condensed" font-size="9" font-weight="normal" fill="#000" stroke="#000" stroke-width="0.22" text-anchor="start" textLength="9.8" lengthAdjust="spacingAndGlyphs">50</text>
<text x="1626.5" y="908.6" font-family='"DejaVu Sans","Liberation Sans",sans-serif' font-stretch="condensed" font-size="9" font-weight="normal" fill="#000" stroke="#000" stroke-width="0.22" text-anchor="start" textLength="9.8" lengthAdjust="spacingAndGlyphs">15</text>
<text x="1626.5" y="925.8" font-family='"DejaVu Sans","Liberation Sans",sans-serif' font-stretch="condensed" font-size="9" font-weight="normal" fill="#000" stroke="#000" stroke-width="0.22" text-anchor="start" textLength="5" lengthAdjust="spacingAndGlyphs">0</text>
<g fill="#000" shape-rendering="crispEdges"><rect x="1624" y="771" width="1" height="1"/><rect x="1624" y="928" width="1" height="1"/></g>
<text x="-5.5" y="942" font-family='"DejaVu Sans","Liberation Sans",sans-serif' font-stretch="condensed" font-size="9" font-weight="normal" fill="#000" stroke="#000" stroke-width="0.22" text-anchor="start" textLength="44.8" lengthAdjust="spacingAndGlyphs">6 Jan 2019</text>
<text x="58.5" y="942" font-family='"DejaVu Sans","Liberation Sans",sans-serif' font-stretch="condensed" font-size="9" font-weight="normal" fill="#000" stroke="#000" stroke-width="0.22" text-anchor="start" textLength="49.8" lengthAdjust="spacingAndGlyphs">15 Jan 2019</text>
<text x="122.5" y="942" font-family='"DejaVu Sans","Liberation Sans",sans-serif' font-stretch="condensed" font-size="9" font-weight="normal" fill="#000" stroke="#000" stroke-width="0.22" text-anchor="start" textLength="49.8" lengthAdjust="spacingAndGlyphs">24 Jan 2019</text>
<text x="186.5" y="942" font-family='"DejaVu Sans","Liberation Sans",sans-serif' font-stretch="condensed" font-size="9" font-weight="normal" fill="#000" stroke="#000" stroke-width="0.22" text-anchor="start" textLength="45.8" lengthAdjust="spacingAndGlyphs">3 Feb 2019</text>
<text x="250.5" y="942" font-family='"DejaVu Sans","Liberation Sans",sans-serif' font-stretch="condensed" font-size="9" font-weight="normal" fill="#000" stroke="#000" stroke-width="0.22" text-anchor="start" textLength="50.8" lengthAdjust="spacingAndGlyphs">12 Feb 2019</text>
<text x="314.5" y="942" font-family='"DejaVu Sans","Liberation Sans",sans-serif' font-stretch="condensed" font-size="9" font-weight="normal" fill="#000" stroke="#000" stroke-width="0.22" text-anchor="start" textLength="50.8" lengthAdjust="spacingAndGlyphs">21 Feb 2019</text>
<text x="378.5" y="942" font-family='"DejaVu Sans","Liberation Sans",sans-serif' font-stretch="condensed" font-size="9" font-weight="normal" fill="#000" stroke="#000" stroke-width="0.22" text-anchor="start" textLength="45.8" lengthAdjust="spacingAndGlyphs">3 Mar 2019</text>
<text x="442.5" y="942" font-family='"DejaVu Sans","Liberation Sans",sans-serif' font-stretch="condensed" font-size="9" font-weight="normal" fill="#000" stroke="#000" stroke-width="0.22" text-anchor="start" textLength="50.8" lengthAdjust="spacingAndGlyphs">12 Mar 2019</text>
<text x="506.5" y="942" font-family='"DejaVu Sans","Liberation Sans",sans-serif' font-stretch="condensed" font-size="9" font-weight="normal" fill="#000" stroke="#000" stroke-width="0.22" text-anchor="start" textLength="50.8" lengthAdjust="spacingAndGlyphs">21 Mar 2019</text>
<text x="570.5" y="942" font-family='"DejaVu Sans","Liberation Sans",sans-serif' font-stretch="condensed" font-size="9" font-weight="normal" fill="#000" stroke="#000" stroke-width="0.22" text-anchor="start" textLength="50.8" lengthAdjust="spacingAndGlyphs">31 Mar 2019</text>
<text x="634.5" y="942" font-family='"DejaVu Sans","Liberation Sans",sans-serif' font-stretch="condensed" font-size="9" font-weight="normal" fill="#000" stroke="#000" stroke-width="0.22" text-anchor="start" textLength="44.8" lengthAdjust="spacingAndGlyphs">9 Apr 2019</text>
<text x="698.5" y="942" font-family='"DejaVu Sans","Liberation Sans",sans-serif' font-stretch="condensed" font-size="9" font-weight="normal" fill="#000" stroke="#000" stroke-width="0.22" text-anchor="start" textLength="49.8" lengthAdjust="spacingAndGlyphs">18 Apr 2019</text>
<text x="762.5" y="942" font-family='"DejaVu Sans","Liberation Sans",sans-serif' font-stretch="condensed" font-size="9" font-weight="normal" fill="#000" stroke="#000" stroke-width="0.22" text-anchor="start" textLength="49.8" lengthAdjust="spacingAndGlyphs">29 Apr 2019</text>
<text x="826.5" y="942" font-family='"DejaVu Sans","Liberation Sans",sans-serif' font-stretch="condensed" font-size="9" font-weight="normal" fill="#000" stroke="#000" stroke-width="0.22" text-anchor="start" textLength="47.8" lengthAdjust="spacingAndGlyphs">8 May 2019</text>
<text x="890.5" y="942" font-family='"DejaVu Sans","Liberation Sans",sans-serif' font-stretch="condensed" font-size="9" font-weight="normal" fill="#000" stroke="#000" stroke-width="0.22" text-anchor="start" textLength="52.8" lengthAdjust="spacingAndGlyphs">17 May 2019</text>
<text x="954.5" y="942" font-family='"DejaVu Sans","Liberation Sans",sans-serif' font-stretch="condensed" font-size="9" font-weight="normal" fill="#000" stroke="#000" stroke-width="0.22" text-anchor="start" textLength="52.8" lengthAdjust="spacingAndGlyphs">27 May 2019</text>
<text x="1018.5" y="942" font-family='"DejaVu Sans","Liberation Sans",sans-serif' font-stretch="condensed" font-size="9" font-weight="normal" fill="#000" stroke="#000" stroke-width="0.22" text-anchor="start" textLength="44.8" lengthAdjust="spacingAndGlyphs">5 Jun 2019</text>
<text x="1082.5" y="942" font-family='"DejaVu Sans","Liberation Sans",sans-serif' font-stretch="condensed" font-size="9" font-weight="normal" fill="#000" stroke="#000" stroke-width="0.22" text-anchor="start" textLength="49.8" lengthAdjust="spacingAndGlyphs">14 Jun 2019</text>
<text x="1146.5" y="942" font-family='"DejaVu Sans","Liberation Sans",sans-serif' font-stretch="condensed" font-size="9" font-weight="normal" fill="#000" stroke="#000" stroke-width="0.22" text-anchor="start" textLength="49.8" lengthAdjust="spacingAndGlyphs">24 Jun 2019</text>
<text x="1210.5" y="942" font-family='"DejaVu Sans","Liberation Sans",sans-serif' font-stretch="condensed" font-size="9" font-weight="normal" fill="#000" stroke="#000" stroke-width="0.22" text-anchor="start" textLength="41.8" lengthAdjust="spacingAndGlyphs">3 Jul 2019</text>
<text x="1274.5" y="942" font-family='"DejaVu Sans","Liberation Sans",sans-serif' font-stretch="condensed" font-size="9" font-weight="normal" fill="#000" stroke="#000" stroke-width="0.22" text-anchor="start" textLength="46.8" lengthAdjust="spacingAndGlyphs">12 Jul 2019</text>
<text x="1338.5" y="942" font-family='"DejaVu Sans","Liberation Sans",sans-serif' font-stretch="condensed" font-size="9" font-weight="normal" fill="#000" stroke="#000" stroke-width="0.22" text-anchor="start" textLength="46.8" lengthAdjust="spacingAndGlyphs">22 Jul 2019</text>
<text x="1402.5" y="942" font-family='"DejaVu Sans","Liberation Sans",sans-serif' font-stretch="condensed" font-size="9" font-weight="normal" fill="#000" stroke="#000" stroke-width="0.22" text-anchor="start" textLength="46.8" lengthAdjust="spacingAndGlyphs">31 Jul 2019</text>
<g fill="#000" shape-rendering="crispEdges"><rect x="59" y="930" width="1" height="3"/><rect x="123" y="930" width="1" height="3"/><rect x="187" y="930" width="1" height="3"/><rect x="251" y="930" width="1" height="3"/><rect x="315" y="930" width="1" height="3"/><rect x="379" y="930" width="1" height="3"/><rect x="443" y="930" width="1" height="3"/><rect x="507" y="930" width="1" height="3"/><rect x="571" y="930" width="1" height="3"/><rect x="635" y="930" width="1" height="3"/><rect x="699" y="930" width="1" height="3"/><rect x="763" y="930" width="1" height="3"/><rect x="827" y="930" width="1" height="3"/><rect x="891" y="930" width="1" height="3"/><rect x="955" y="930" width="1" height="3"/><rect x="1019" y="930" width="1" height="3"/><rect x="1083" y="930" width="1" height="3"/><rect x="1147" y="930" width="1" height="3"/><rect x="1211" y="930" width="1" height="3"/><rect x="1275" y="930" width="1" height="3"/><rect x="1339" y="930" width="1" height="3"/><rect x="1403" y="930" width="1" height="3"/></g>
<path d="M1422 30 L1432 30 L1427 35 Z" fill="#c0c0c0"/>
</svg>
<svg id="tbs" width="1670" height="29" viewBox="0 0 1670 29">
<defs><pattern id="chk" width="2" height="2" patternUnits="userSpaceOnUse"><rect width="2" height="2" fill="#f4f4f4"/><rect width="1" height="1" fill="#fff"/><rect x="1" y="1" width="1" height="1" fill="#fff"/></pattern><linearGradient id="gold" x1="0" y1="0" x2="1" y2="1"><stop offset="0" stop-color="#ffe36a"/><stop offset="0.6" stop-color="#e8b020"/><stop offset="1" stop-color="#b07808"/></linearGradient><linearGradient id="gplus" x1="0" y1="0" x2="0" y2="1"><stop offset="0" stop-color="#7df07d"/><stop offset="1" stop-color="#0aa80a"/></linearGradient><linearGradient id="lens" x1="0" y1="0" x2="0" y2="1"><stop offset="0" stop-color="#e8f6ff"/><stop offset="1" stop-color="#b8dcf4"/></linearGradient><linearGradient id="hat" x1="0" y1="0" x2="0" y2="1"><stop offset="0" stop-color="#8fd0f0"/><stop offset="1" stop-color="#3a8cc8"/></linearGradient><linearGradient id="face" x1="0" y1="0" x2="1" y2="1"><stop offset="0" stop-color="#fff6a0"/><stop offset="1" stop-color="#e8b820"/></linearGradient><linearGradient id="grn" x1="0" y1="0" x2="0" y2="1"><stop offset="0" stop-color="#4cb030"/><stop offset="1" stop-color="#2a9010"/></linearGradient><linearGradient id="blu" x1="0" y1="0" x2="0" y2="1"><stop offset="0" stop-color="#1848c0"/><stop offset="1" stop-color="#3878e8"/></linearGradient><linearGradient id="cloud" x1="0" y1="0" x2="0" y2="1"><stop offset="0" stop-color="#ffffff"/><stop offset="1" stop-color="#b8c8e8"/></linearGradient><linearGradient id="doc" x1="0" y1="0" x2="1" y2="1"><stop offset="0" stop-color="#30a8ff"/><stop offset="1" stop-color="#1070d8"/></linearGradient><radialGradient id="clk" cx="0.5" cy="0.4" r="0.6"><stop offset="0" stop-color="#ffffff"/><stop offset="1" stop-color="#d8e4f0"/></radialGradient><linearGradient id="bub" x1="0" y1="0" x2="0" y2="1"><stop offset="0" stop-color="#ffffff"/><stop offset="1" stop-color="#d0d4e4"/></linearGradient></defs>
<rect x="0" y="0" width="1670" height="25" fill="#f0f0f0"/>
<rect x="0" y="25" width="1670" height="1" fill="#a0a0a0"/>
<rect x="0" y="26" width="1670" height="1" fill="#696969"/>
<rect x="0" y="27" width="1670" height="2" fill="#fff"/>
<g shape-rendering="crispEdges">
<rect x="220" y="0" width="1" height="25" fill="#a0a0a0"/><rect x="221" y="0" width="1" height="25" fill="#fff"/>
<rect x="588" y="0" width="1" height="25" fill="#a0a0a0"/><rect x="589" y="0" width="1" height="25" fill="#fff"/>
<rect x="894" y="0" width="1" height="25" fill="#a0a0a0"/><rect x="895" y="0" width="1" height="25" fill="#fff"/>
<rect x="1155" y="0" width="1" height="25" fill="#a0a0a0"/><rect x="1156" y="0" width="1" height="25" fill="#fff"/>
<rect x="315" y="2" width="1" height="21" fill="#a0a0a0"/>
<rect x="405" y="2" width="1" height="21" fill="#a0a0a0"/>
<rect x="467" y="2" width="1" height="21" fill="#a0a0a0"/>
<rect x="655" y="2" width="1" height="21" fill="#a0a0a0"/>
<rect x="224" y="3" width="3" height="1" fill="#a0a0a0"/>
<rect x="224" y="5" width="3" height="1" fill="#a0a0a0"/>
<rect x="224" y="7" width="3" height="1" fill="#a0a0a0"/>
<rect x="224" y="9" width="3" height="1" fill="#a0a0a0"/>
<rect x="224" y="11" width="3" height="1" fill="#a0a0a0"/>
<rect x="224" y="13" width="3" height="1" fill="#a0a0a0"/>
<rect x="224" y="15" width="3" height="1" fill="#a0a0a0"/>
<rect x="224" y="17" width="3" height="1" fill="#a0a0a0"/>
<rect x="224" y="19" width="3" height="1" fill="#a0a0a0"/>
<rect x="224" y="21" width="3" height="1" fill="#a0a0a0"/>
<rect x="592" y="3" width="3" height="1" fill="#a0a0a0"/>
<rect x="592" y="5" width="3" height="1" fill="#a0a0a0"/>
<rect x="592" y="7" width="3" height="1" fill="#a0a0a0"/>
<rect x="592" y="9" width="3" height="1" fill="#a0a0a0"/>
<rect x="592" y="11" width="3" height="1" fill="#a0a0a0"/>
<rect x="592" y="13" width="3" height="1" fill="#a0a0a0"/>
<rect x="592" y="15" width="3" height="1" fill="#a0a0a0"/>
<rect x="592" y="17" width="3" height="1" fill="#a0a0a0"/>
<rect x="592" y="19" width="3" height="1" fill="#a0a0a0"/>
<rect x="592" y="21" width="3" height="1" fill="#a0a0a0"/>
<rect x="898" y="3" width="3" height="1" fill="#a0a0a0"/>
<rect x="898" y="5" width="3" height="1" fill="#a0a0a0"/>
<rect x="898" y="7" width="3" height="1" fill="#a0a0a0"/>
<rect x="898" y="9" width="3" height="1" fill="#a0a0a0"/>
<rect x="898" y="11" width="3" height="1" fill="#a0a0a0"/>
<rect x="898" y="13" width="3" height="1" fill="#a0a0a0"/>
<rect x="898" y="15" width="3" height="1" fill="#a0a0a0"/>
<rect x="898" y="17" width="3" height="1" fill="#a0a0a0"/>
<rect x="898" y="19" width="3" height="1" fill="#a0a0a0"/>
<rect x="898" y="21" width="3" height="1" fill="#a0a0a0"/>
<rect x="258" y="1" width="25" height="22" fill="url(#chk)"/>
<rect x="258" y="1" width="25" height="1" fill="#a0a0a0"/><rect x="258" y="1" width="1" height="22" fill="#a0a0a0"/>
<rect x="258" y="23" width="26" height="1" fill="#fff"/><rect x="283" y="1" width="1" height="23" fill="#fff"/>
<rect x="410" y="1" width="25" height="22" fill="url(#chk)"/>
<rect x="410" y="1" width="25" height="1" fill="#a0a0a0"/><rect x="410" y="1" width="1" height="22" fill="#a0a0a0"/>
<rect x="410" y="23" width="26" height="1" fill="#fff"/><rect x="435" y="1" width="1" height="23" fill="#fff"/>
<rect x="438" y="1" width="25" height="22" fill="url(#chk)"/>
<rect x="438" y="1" width="25" height="1" fill="#a0a0a0"/><rect x="438" y="1" width="1" height="22" fill="#a0a0a0"/>
<rect x="438" y="23" width="26" height="1" fill="#fff"/><rect x="463" y="1" width="1" height="23" fill="#fff"/>
<rect x="598" y="1" width="25" height="22" fill="url(#chk)"/>
<rect x="598" y="1" width="25" height="1" fill="#a0a0a0"/><rect x="598" y="1" width="1" height="22" fill="#a0a0a0"/>
<rect x="598" y="23" width="26" height="1" fill="#fff"/><rect x="623" y="1" width="1" height="23" fill="#fff"/>
<rect x="1072" y="1" width="25" height="22" fill="url(#chk)"/>
<rect x="1072" y="1" width="25" height="1" fill="#a0a0a0"/><rect x="1072" y="1" width="1" height="22" fill="#a0a0a0"/>
<rect x="1072" y="23" width="26" height="1" fill="#fff"/><rect x="1097" y="1" width="1" height="23" fill="#fff"/>
</g>
<path d="M0 6.5 L3.5 6.5 L5.5 8.5 L5.5 15 L0 15 Z" fill="#fff" stroke="#909090" stroke-width="0.8"/>
<path d="M0 14.2 L2.2 14.2 L2.2 11.2 L5.8 11.2 L5.8 14.2 L9.6 14.2 L9.6 18 L5.8 18 L5.8 22.3 L2.2 22.3 L2.2 18 L0 18 Z" fill="url(#gplus)" stroke="#0a900a" stroke-width="0.8"/>
<text x="12.8" y="16.3" font-family='"Liberation Sans","Noto Sans CJK SC",sans-serif' font-size="12" font-weight="500" fill="#000" textLength="36.5" lengthAdjust="spacingAndGlyphs">新订单</text>
<path d="M66.2 6.2 L76.2 12.2 Q77.4 13.6 76.8 15 L69.6 20.4 Q68.8 20.9 68 20.4 L61.2 15.6 Q60.8 14.8 61.6 14 Q64.4 11 65.2 6.8 Z" fill="url(#gold)" stroke="#a86808" stroke-width="0.9" stroke-linejoin="round"/>
<path d="M61.9 15 L68.8 19.7 L69.2 18.5 L62.8 14 Z" fill="#fff2b8" opacity="0.85"/><path d="M69.6 19.6 L76.4 14.4" stroke="#f8e8a8" stroke-width="0.7" fill="none"/>
<path d="M91 6.4 L92.2 5.2 L100 5.2 L101.8 7 L101.8 14.6 L91 14.6 Z" fill="#12a0ff" stroke="#0878e0" stroke-width="0.6"/>
<path d="M91 6.4 L93.6 8 L93.6 14.6 L91 14.6 Z" fill="#40b8ff"/><path d="M91.3 6.3 L93.6 8 L93.6 14.4" fill="none" stroke="#fff" stroke-width="0.7"/>
<rect x="95.4" y="9" width="5.2" height="1.3" fill="#f0faff"/><rect x="94.6" y="11.5" width="6.4" height="0.8" fill="#c0e8ff"/>
<path d="M91.4 20.4 Q89.2 20.4 89.3 18.3 Q89.4 16.6 91.2 16.4 Q91.4 14.8 93.2 14.8 Q93.8 13.4 96.4 13.4 Q98.6 13.2 99.6 15.2 Q100.6 14.4 102 14.8 Q104.8 15.4 104.8 18 Q104.8 20.4 102.6 20.4 Z" fill="url(#cloud)" stroke="#4868a8" stroke-width="0.9"/>
<path d="M125.4 12.8 L132.8 12.8 A7.9 7.9 0 0 1 125.4 20.6 Z" fill="#8ccc8c"/><path d="M125.4 16.6 L129 16.6 A4.4 4.4 0 0 1 125.4 20.6 Z" fill="#30a830" opacity="0.55"/>
<g fill="none" stroke-width="1.1"><path d="M124.9 20.4 A7.6 7.6 0 1 1 132.5 12.8" stroke="#7c9ce0" opacity="0.85"/><path d="M124.9 17.3 A4.5 4.5 0 1 1 129.4 12.8" stroke="#6088d8" opacity="0.8"/><path d="M132.5 12.8 A7.6 7.6 0 0 1 126 20.3" stroke="#3c8c5c"/><path d="M129.4 12.8 A4.5 4.5 0 0 1 126 17.2" stroke="#b8dcc0"/></g>
<circle cx="124.9" cy="12.7" r="1.9" fill="#2858d0"/><rect x="125" y="13" width="1.3" height="7.8" fill="#18a018"/>
<path d="M145 13.2 L158.6 12.4 L155 20.6 L151.2 20.8 Z" fill="url(#face)" stroke="#c89818" stroke-width="0.6"/>
<ellipse cx="152" cy="9.8" rx="7.8" ry="3" fill="url(#hat)" stroke="#3080b8" stroke-width="0.6"/><ellipse cx="152" cy="7.8" rx="3.8" ry="2.6" fill="#7cc4ec"/>
<circle cx="156.6" cy="16.6" r="4" fill="#e02810" stroke="#b01808" stroke-width="0.5"/><rect x="155.1" y="15.1" width="3" height="3" fill="#fff"/>
<text x="165.6" y="16.3" font-family='"Liberation Sans","Noto Sans CJK SC",sans-serif' font-size="12" font-weight="500" fill="#000" textLength="46.5" lengthAdjust="spacingAndGlyphs">自动交易</text>
<g stroke="#505050" stroke-width="1.2" fill="#505050"><line x1="238.5" y1="8" x2="238.5" y2="21"/><line x1="236" y1="18.5" x2="249" y2="18.5"/><path d="M238.5 6.6 L240.3 9 L236.7 9 Z" stroke="none"/><path d="M250.4 18.5 L248 16.7 L248 20.3 Z" stroke="none"/></g>
<path d="M244.5 8.5 L244.5 16.5 M244.5 9.5 L247 9.5 M242 15.5 L244.5 15.5" stroke="#18a018" stroke-width="1.3" fill="none"/>
<g stroke="#505050" stroke-width="1.2" fill="#505050"><line x1="266.5" y1="8" x2="266.5" y2="21"/><line x1="264" y1="18.5" x2="277" y2="18.5"/><path d="M266.5 6.6 L268.3 9 L264.7 9 Z" stroke="none"/><path d="M278.4 18.5 L276 16.7 L276 20.3 Z" stroke="none"/></g>
<rect x="272" y="5" width="1.2" height="12" fill="#18a018"/><rect x="270.2" y="7.6" width="4.8" height="7" fill="#48e048" stroke="#18a018" stroke-width="0.9"/>
<g stroke="#505050" stroke-width="1.2" fill="#505050"><line x1="294.5" y1="8" x2="294.5" y2="21"/><line x1="292" y1="18.5" x2="305" y2="18.5"/><path d="M294.5 6.6 L296.3 9 L292.7 9 Z" stroke="none"/><path d="M306.4 18.5 L304 16.7 L304 20.3 Z" stroke="none"/></g>
<path d="M293.5 15.6 C296 14 297.5 10.4 299.5 10.4 C301.5 10.4 302.5 13.4 304.8 14" stroke="#30a030" stroke-width="1.2" fill="none"/>
<line x1="333.7" y1="15.2" x2="339.09999999999997" y2="19.8" stroke="#d8a820" stroke-width="2.6" stroke-linecap="round"/><line x1="334.3" y1="15" x2="339.3" y2="19.2" stroke="#fff0a0" stroke-width="0.7"/><circle cx="329.7" cy="11" r="5.6" fill="url(#lens)" stroke="#3888d8" stroke-width="1.3"/><rect x="326.7" y="10.2" width="6" height="1.6" fill="#4890c8"/><rect x="328.9" y="8" width="1.6" height="6" fill="#4890c8"/>
<line x1="362" y1="15.2" x2="367.4" y2="19.8" stroke="#d8a820" stroke-width="2.6" stroke-linecap="round"/><line x1="362.6" y1="15" x2="367.6" y2="19.2" stroke="#fff0a0" stroke-width="0.7"/><circle cx="358" cy="11" r="5.6" fill="url(#lens)" stroke="#3888d8" stroke-width="1.3"/><rect x="355" y="10.2" width="6" height="1.6" fill="#4890c8"/>
<rect x="380" y="5" width="8" height="8" fill="url(#grn)"/><rect x="381.6" y="8" width="5" height="3.6" fill="#fff" opacity="0.95"/><rect x="382.6" y="9.2" width="3" height="1" fill="url(#grn)" opacity="0.6"/><rect x="381.2" y="6" width="1" height="1" fill="#fff" opacity="0.8"/>
<rect x="388" y="5" width="8" height="8" fill="url(#blu)"/><rect x="389.6" y="8" width="5" height="3.6" fill="#fff" opacity="0.95"/><rect x="390.6" y="9.2" width="3" height="1" fill="url(#blu)" opacity="0.6"/><rect x="389.2" y="6" width="1" height="1" fill="#fff" opacity="0.8"/>
<rect x="380" y="13" width="8" height="8" fill="url(#blu)"/><rect x="381.6" y="16" width="5" height="3.6" fill="#fff" opacity="0.95"/><rect x="382.6" y="17.2" width="3" height="1" fill="url(#blu)" opacity="0.6"/><rect x="381.2" y="14" width="1" height="1" fill="#fff" opacity="0.8"/>
<rect x="388" y="13" width="8" height="8" fill="url(#grn)"/><rect x="389.6" y="16" width="5" height="3.6" fill="#fff" opacity="0.95"/><rect x="390.6" y="17.2" width="3" height="1" fill="url(#grn)" opacity="0.6"/><rect x="389.2" y="14" width="1" height="1" fill="#fff" opacity="0.8"/>
<g stroke="#505050" stroke-width="1.2" fill="#505050"><line x1="418.5" y1="8" x2="418.5" y2="21"/><line x1="416" y1="18.5" x2="429" y2="18.5"/><path d="M418.5 6.6 L420.3 9 L416.7 9 Z" stroke="none"/><path d="M430.4 18.5 L428 16.7 L428 20.3 Z" stroke="none"/></g>
<path d="M423.4 9.4 L427 12.6 L423.4 15.8 Z" fill="#90e890" stroke="#18a018" stroke-width="0.9"/>
<g stroke="#505050" stroke-width="1.2" fill="#505050"><line x1="446.5" y1="8" x2="446.5" y2="21"/><line x1="444" y1="18.5" x2="457" y2="18.5"/><path d="M446.5 6.6 L448.3 9 L444.7 9 Z" stroke="none"/><path d="M458.4 18.5 L456 16.7 L456 20.3 Z" stroke="none"/></g>
<rect x="452" y="7" width="1.2" height="10" fill="#1868b8"/><path d="M453.6 12.5 L456.4 10.4 L456 12 L458 12 L458 13 L456 13 L456.4 14.6 Z" fill="#e05010" stroke="#c03808" stroke-width="0.4"/>
<path d="M477.5 5.6 L486 5.6 L488.6 8.2 L488.6 18.6 L477.5 18.6 Z" fill="#fff" stroke="#909090" stroke-width="0.8"/>
<text x="479.2" y="14.4" font-family='"Liberation Serif",serif' font-style="italic" font-size="10" fill="#404040">f</text>
<path d="M481.4 15 L485 15 L485 11.4 L489 11.4 L489 15 L492.8 15 L492.8 18.8 L489 18.8 L489 22.6 L485 22.6 L485 18.8 L481.4 18.8 Z" fill="url(#gplus)" stroke="#0a900a" stroke-width="0.8"/>
<path d="M499 12 L504.6 12 L501.8 15 Z" fill="#000"/>
<path d="M538 12 L543.6 12 L540.8 15 Z" fill="#000"/>
<path d="M576.8 12 L582.4 12 L579.5999999999999 15 Z" fill="#000"/>
<path d="M882.8 12 L888.4 12 L885.5999999999999 15 Z" fill="#000"/>
<circle cx="523.1" cy="12.7" r="6.8" fill="url(#clk)" stroke="#1060c8" stroke-width="2.4"/>
<path d="M522.4 8.6 L523 13.2 L526 13.4" fill="none" stroke="#202020" stroke-width="1.1"/>
<rect x="554.3" y="6.3" width="15.4" height="13.4" fill="#fff" stroke="#3878c8" stroke-width="1"/><rect x="554.8" y="6.8" width="14.4" height="1.8" fill="#78b0e8"/><rect x="554.8" y="13.4" width="14.4" height="1" fill="#5890d8"/>
<path d="M556.4 12.2 L558.4 12.2 L560 10.6 L562 11.6 L563.6 10.6 L565.4 11.4 L567.6 10.2" fill="none" stroke="#a01808" stroke-width="1.2"/>
<path d="M556.8 17.6 L558.6 16.8 L560.4 17.6 L562.2 16.4 L564.4 15.4 L566 16.6 L567.6 17.8" fill="none" stroke="#189018" stroke-width="1.2"/>
<path d="M605.8 5.8 L613.8 13.6 L610.4 13.8 L612.6 19 L610.8 19.8 L608.6 14.8 L606 17 Z" fill="#505050"/>
<g stroke="#505050" stroke-width="1.2"><line x1="638.5" y1="6" x2="638.5" y2="12"/><line x1="638.5" y1="15" x2="638.5" y2="21"/><line x1="631" y1="13.5" x2="637" y2="13.5"/><line x1="640" y1="13.5" x2="646" y2="13.5"/></g>
<g stroke="#505050" stroke-width="1.2" fill="none"><line x1="672.5" y1="7" x2="672.5" y2="20"/><line x1="695" y1="13.5" x2="707" y2="13.5"/><line x1="722.8" y1="19.8" x2="735" y2="7.6"/></g>
<g stroke="#505050" stroke-width="1" fill="none"><line x1="748.6" y1="14.8" x2="757" y2="6.6"/><line x1="751" y1="19.6" x2="762.6" y2="9"/><line x1="754" y1="19.8" x2="763" y2="11.4"/><path d="M751 12 L752 19 M753.6 10 L754.8 17.4 M756.6 8 L757.6 15 M759.6 5.2 L760.6 12.4"/></g>
<text x="759.6" y="21.8" font-family='"Liberation Sans","Noto Sans CJK SC",sans-serif' font-size="7" font-weight="bold" fill="#505050">E</text>
<line x1="778" y1="6.5" x2="791" y2="6.5" stroke="#505050" stroke-width="1" stroke-dasharray="1 1"/>
<line x1="778" y1="9.5" x2="791" y2="9.5" stroke="#505050" stroke-width="1" stroke-dasharray="1 1"/>
<line x1="778" y1="13.5" x2="791" y2="13.5" stroke="#505050" stroke-width="1" stroke-dasharray="1 1"/>
<line x1="778" y1="17.5" x2="787" y2="17.5" stroke="#505050" stroke-width="1" stroke-dasharray="1 1"/>
<text x="787.8" y="21.8" font-family='"Liberation Sans","Noto Sans CJK SC",sans-serif' font-size="7" font-weight="bold" fill="#505050">F</text>
<text x="808.2" y="18" font-family='"Liberation Sans","Noto Sans CJK SC",sans-serif' font-size="12.5" fill="#505050" stroke="#505050" stroke-width="0.6" textLength="8.6" lengthAdjust="spacingAndGlyphs">A</text>
<rect x="835.5" y="7.5" width="11" height="12" fill="none" stroke="#505050" stroke-width="1" stroke-dasharray="1 1" shape-rendering="crispEdges"/><rect x="834.4" y="6.2" width="2" height="1.4" fill="#505050"/>
<path d="M837.6 10.6 L845 10.6 M841.3 10.6 L841.3 18" stroke="#505050" stroke-width="1.3" fill="none"/>
<path d="M862.2 10.6 L865.4 7 L868.6 10.6 Z M869.4 16.4 L872.6 20 L875.8 16.4 L872.6 14.8 Z" fill="#505050"/><path d="M864.6 14.4 L866.4 16.2 L870.6 11.4" stroke="#505050" stroke-width="1.2" fill="none"/>
<text x="909.2" y="17" font-family='"DejaVu Sans","Liberation Sans",sans-serif' font-stretch="condensed" font-size="9" fill="#202020" textLength="13.2" lengthAdjust="spacingAndGlyphs">M1</text>
<text x="936.8000000000001" y="17" font-family='"DejaVu Sans","Liberation Sans",sans-serif' font-stretch="condensed" font-size="9" fill="#202020" textLength="13.8" lengthAdjust="spacingAndGlyphs">M5</text>
<text x="963.2" y="17" font-family='"DejaVu Sans","Liberation Sans",sans-serif' font-stretch="condensed" font-size="9" fill="#202020" textLength="18.4" lengthAdjust="spacingAndGlyphs">M15</text>
<text x="991.2" y="17" font-family='"DejaVu Sans","Liberation Sans",sans-serif' font-stretch="condensed" font-size="9" fill="#202020" textLength="18.4" lengthAdjust="spacingAndGlyphs">M30</text>
<text x="1022.2" y="17" font-family='"DejaVu Sans","Liberation Sans",sans-serif' font-stretch="condensed" font-size="9" fill="#202020" textLength="12.4" lengthAdjust="spacingAndGlyphs">H1</text>
<text x="1049.3" y="17" font-family='"DejaVu Sans","Liberation Sans",sans-serif' font-stretch="condensed" font-size="9" fill="#202020" textLength="12.8" lengthAdjust="spacingAndGlyphs">H4</text>
<text x="1078.1999999999998" y="17" font-family='"DejaVu Sans","Liberation Sans",sans-serif' font-stretch="condensed" font-size="9" fill="#202020" textLength="12.2" lengthAdjust="spacingAndGlyphs">D1</text>
<text x="1105.5" y="17" font-family='"DejaVu Sans","Liberation Sans",sans-serif' font-stretch="condensed" font-size="9" fill="#202020" textLength="14.8" lengthAdjust="spacingAndGlyphs">W1</text>
<text x="1132.5" y="17" font-family='"DejaVu Sans","Liberation Sans",sans-serif' font-stretch="condensed" font-size="9" fill="#202020" textLength="14.9" lengthAdjust="spacingAndGlyphs">MN</text>
<line x1="1622.4" y1="13.4" x2="1618.6" y2="17.4" stroke="#2060d0" stroke-width="2.4" stroke-linecap="round"/><circle cx="1625.4" cy="10.3" r="3.6" fill="#f8f8ff" stroke="#2060d8" stroke-width="1.4"/>
<path d="M1664.2 14.6 L1665.4 17.4 L1662 15 Z" fill="#707070"/><ellipse cx="1658.3" cy="10.4" rx="6.4" ry="4.6" fill="url(#bub)" stroke="#a0a0a0" stroke-width="0.9"/>
<path d="M1646.4 18 L1645.8 20.6 L1648.8 18.4 Z" fill="#707070"/><ellipse cx="1649.2" cy="14.6" rx="5" ry="3.9" fill="url(#bub)" stroke="#909090" stroke-width="0.9"/>
</svg>
<div id="rs"></div>
<div id="oct"><div class="btn" style="left:0;width:50px"><i style="left:2px;width:44px"></i></div><div class="btn" style="left:165px;width:52px"><i style="left:4px;width:44px"></i></div><div class="vol"><b class="dn"></b><b class="up"></b></div><div class="pp" style="left:0;width:107px"></div><div class="pp" style="left:109px;width:108px"></div><div class="hl" style="left:2px;width:44px"></div><div class="hl" style="left:169px;width:44px"></div><svg width="217" height="64" viewBox="0 49 217 64" style="position:absolute;left:0;top:0"><text x="10.2" y="64.8" font-family='"Liberation Sans","Noto Sans CJK SC",sans-serif' font-size="12" font-weight="normal" fill="#fff0f0" textLength="25.8" lengthAdjust="spacingAndGlyphs">SELL</text><text x="178.5" y="64.8" font-family='"Liberation Sans","Noto Sans CJK SC",sans-serif' font-size="12" font-weight="normal" fill="#fff0f0" textLength="23.5" lengthAdjust="spacingAndGlyphs">BUY</text><text x="114.8" y="64.1" font-family='"Liberation Sans","Noto Sans CJK SC",sans-serif' font-size="12.7" font-weight="normal" fill="#000" textLength="23" lengthAdjust="spacingAndGlyphs">1.00</text><text x="21.6" y="104.1" font-family='"Liberation Sans","Noto Sans CJK SC",sans-serif' font-size="12" font-weight="bold" fill="#fff" textLength="20.4" lengthAdjust="spacingAndGlyphs">107</text><text x="46.6" y="104.7" font-family='"Liberation Sans","Noto Sans CJK SC",sans-serif' font-size="34.4" font-weight="normal" fill="#fff" textLength="33.8" lengthAdjust="spacingAndGlyphs">32</text><text x="85.1" y="87.8" font-family='"Liberation Sans","Noto Sans CJK SC",sans-serif' font-size="11.6" font-weight="bold" fill="#fff" textLength="7" lengthAdjust="spacingAndGlyphs">0</text><text x="131.5" y="104.1" font-family='"Liberation Sans","Noto Sans CJK SC",sans-serif' font-size="12" font-weight="bold" fill="#fff" textLength="20.4" lengthAdjust="spacingAndGlyphs">107</text><text x="157.2" y="104.7" font-family='"Liberation Sans","Noto Sans CJK SC",sans-serif' font-size="34.4" font-weight="normal" fill="#fff" textLength="33.6" lengthAdjust="spacingAndGlyphs">37</text><text x="195.8" y="87.8" font-family='"Liberation Sans","Noto Sans CJK SC",sans-serif' font-size="11.6" font-weight="bold" fill="#fff" textLength="7" lengthAdjust="spacingAndGlyphs">2</text></svg></div>
</body></html>
